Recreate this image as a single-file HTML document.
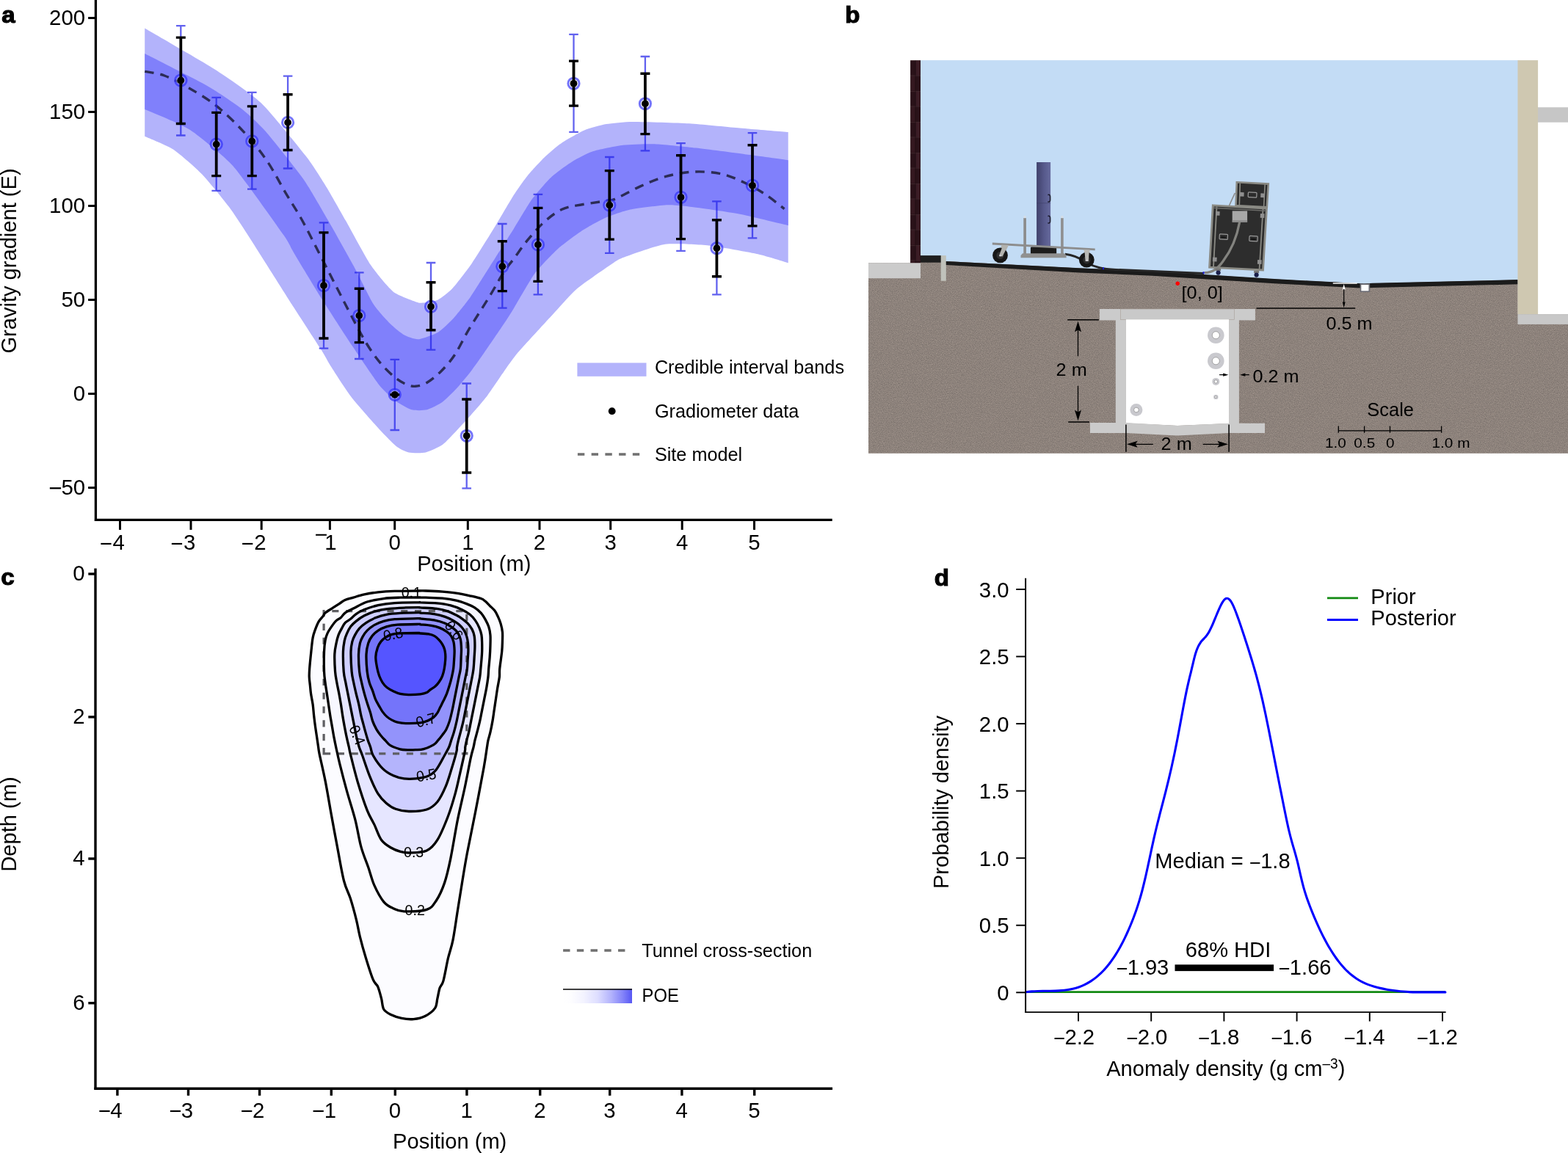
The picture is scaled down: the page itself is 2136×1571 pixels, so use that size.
<!DOCTYPE html>
<html lang="en"><head><meta charset="utf-8"><title>Figure</title>
<style>
html,body{margin:0;padding:0;background:#fff;}
body{width:2136px;height:1571px;overflow:hidden;}
svg{display:block;font-family:"Liberation Sans",Arial,Helvetica,sans-serif;}
text{fill:#000;}
</style></head><body>
<svg xmlns="http://www.w3.org/2000/svg" width="2136" height="1571" viewBox="0 0 2136 1571">
<defs>
<linearGradient id="poe" x1="0" y1="0" x2="1" y2="0"><stop offset="0" stop-color="#ffffff"/><stop offset="0.12" stop-color="#fdfdff"/><stop offset="0.3" stop-color="#f3f3ff"/><stop offset="0.5" stop-color="#dedeff"/><stop offset="0.7" stop-color="#b2b2fc"/><stop offset="0.87" stop-color="#8282f9"/><stop offset="1" stop-color="#5757f4"/></linearGradient>
<linearGradient id="cyl" x1="0" y1="0" x2="1" y2="0"><stop offset="0" stop-color="#40416b"/><stop offset="0.55" stop-color="#575a8c"/><stop offset="1" stop-color="#666a9d"/></linearGradient>
<pattern id="brick" x="1240.1" y="82.1" width="13.9" height="42" patternUnits="userSpaceOnUse">
<rect width="13.9" height="42" fill="#2a1219"/>
<rect x="7.5" y="0.8" width="5.6" height="19.6" fill="#3b1c25"/>
<rect x="0.8" y="21.8" width="5.6" height="19.4" fill="#341820"/>
<path d="M0,0.4H13.9M0,21H13.9" stroke="#4a3036" stroke-width="0.7"/>
<path d="M7,0V42" stroke="#1d0b10" stroke-width="0.7"/>
</pattern>
<filter id="grain" x="0" y="0" width="100%" height="100%" color-interpolation-filters="sRGB">
<feTurbulence type="fractalNoise" baseFrequency="0.85" numOctaves="2" seed="7" result="n"/>
<feColorMatrix type="matrix" values="0.24 0 0 0 0.432  0.22 0 0.01 0 0.395  0.20 0 0.02 0 0.374  0 0 0 0 1" in="n" result="m"/>
<feComposite in="m" in2="SourceGraphic" operator="in"/>
</filter>
</defs>
<g id="panel-b">
<rect x="1253.5" y="82.1" width="815" height="310" fill="#c3dcf5"/>
<polygon points="1183,358.2 1254,358.2 1254,356 1288.8,356 1470,365.5 1570,370 1736,380.5 1816,384.6 1858,387 1869.7,386.2 2067.5,381.4 2067.5,428 2136,428 2136,617.6 1183,617.6" fill="#8d837c"/>
<polygon points="1183,358.2 1254,358.2 1254,356 1288.8,356 1470,365.5 1570,370 1736,380.5 1816,384.6 1858,387 1869.7,386.2 2067.5,381.4 2067.5,428 2136,428 2136,617.6 1183,617.6" fill="#8d837c" filter="url(#grain)"/>
<rect x="1183" y="358.2" width="71" height="21" fill="#cbcbcb"/>
<rect x="1240.1" y="82.1" width="13.9" height="276.1" fill="url(#brick)"/>
<rect x="1254" y="348.1" width="28" height="9.6" fill="#1e1e1e"/>
<rect x="1281.7" y="348.1" width="7.1" height="34.6" fill="#c0c2bb"/>
<polygon points="1288.8,355.9 1470,365.2 1570,369.6 1736,380.1 1816,384.3 1858,386.6 1869.7,385.8 2067.5,381.1 2067.5,387.3 1869.7,392 1858,392.8 1816,390.5 1736,386.3 1570,375.8 1470,371.4 1288.8,361.1" fill="#1b1b1b"/>
<rect x="2067.5" y="82.1" width="27.6" height="346" fill="#cfc8b1"/>
<rect x="2067.5" y="428.1" width="68.5" height="13.8" fill="#c8c8c8"/>
<rect x="2095" y="146.2" width="41" height="20.5" fill="#c6c6c6"/>
<rect x="1497.9" y="421" width="212" height="15.4" fill="#cbcbcb"/>
<rect x="1526.3" y="421" width="155.2" height="14.3" fill="#c9c9c9" stroke="#a79f98" stroke-width="0.6"/>
<rect x="1519.8" y="436" width="14.1" height="141" fill="#cbcbcb"/>
<rect x="1674.1" y="436" width="13.8" height="141" fill="#cbcbcb"/>
<path d="M1533.9,435.3H1674.1V577L1604,580L1533.9,576.6Z" fill="#fff"/>
<path d="M1484.9,576H1533.9L1604,580L1674.1,576.8H1723V590H1674.1L1604,593.6L1533.9,590H1484.9Z" fill="#cbcbcb"/>
<circle cx="1656.3" cy="456.7" r="11.3" fill="#c9c9ce"/>
<circle cx="1656.3" cy="456.7" r="5.0" fill="#fff" stroke="#777" stroke-width="0.6"/>
<circle cx="1656.3" cy="491.8" r="11.3" fill="#c9c9ce"/>
<circle cx="1656.3" cy="491.8" r="5.0" fill="#fff" stroke="#777" stroke-width="0.6"/>
<circle cx="1656.3" cy="519.9" r="5.0" fill="#c9c9ce"/>
<circle cx="1656.3" cy="519.9" r="2.2" fill="#fff" stroke="#777" stroke-width="0.6"/>
<circle cx="1656.3" cy="540.9" r="3.2" fill="#c9c9ce"/>
<circle cx="1656.3" cy="540.9" r="1.4" fill="#fff" stroke="#777" stroke-width="0.6"/>
<circle cx="1547.9" cy="558.5" r="8.5" fill="#c9c9ce"/>
<circle cx="1547.9" cy="558.5" r="3.3" fill="#fff" stroke="#777" stroke-width="0.6"/>
<g>
<path d="M1451,346.3C1462,347.3 1470,351 1480,357.5C1492,364.5 1502,366.6 1520,367.4L1640,372.6" fill="none" stroke="#262626" stroke-width="3"/>
<rect x="1412.1" y="221" width="19" height="114" fill="url(#cyl)"/>
<path d="M1427.4,265.4c2.6,-0.6 3.2,0.6 3.2,2.6v4.2c0,2 -0.6,3.2 -3.2,2.6M1427.4,294.4c2.6,-0.6 3.2,0.6 3.2,2.6v4.2c0,2 -0.6,3.2 -3.2,2.6" fill="none" stroke="#1b1b2c" stroke-width="1.5"/><path d="M1412.1,276.7h19" stroke="#3c3e66" stroke-width="0.5"/>
<rect x="1394.3" y="297" width="3.6" height="49" fill="#8b8b8b"/>
<rect x="1445.1" y="297" width="3.6" height="49" fill="#8f8f8f"/>
<rect x="1394.6" y="294" width="3" height="3.2" fill="#d5dde6"/>
<rect x="1445.4" y="294" width="3" height="3.2" fill="#d5dde6"/>
<rect x="1403.9" y="336.3" width="35.3" height="10.2" rx="1.5" fill="#1d1d1d"/>
<polygon points="1351.8,330.6 1491.7,338.4 1491.7,341.2 1351.8,333.4" fill="#8d8d8d"/>
<polygon points="1393,345.2 1450.3,345.2 1452.6,348 1452.6,351.2 1390.5,351.2 1390.5,348" fill="#909090"/>
<polygon points="1364.5,333.4 1374,334 1366.8,348.5 1360.5,347.5" fill="#b2b2ae"/>
<polygon points="1476.6,340 1484.6,340.5 1483.3,355 1478.2,355" fill="#b8b8b4"/>
<circle cx="1362.5" cy="347.9" r="10.4" fill="#161616"/>
<circle cx="1362.5" cy="347.9" r="5.2" fill="#2e2e2e"/>
<circle cx="1480.3" cy="354.1" r="10.4" fill="#161616"/>
<circle cx="1480.3" cy="354.1" r="5.2" fill="#2e2e2e"/>
<polygon points="1366,334.5 1373,335 1365.5,349.5 1361,348.5" fill="#b2b2ae"/><circle cx="1362.6" cy="348.2" r="1.3" fill="#d0d0d8"/>
<polygon points="1477.4,341 1483.8,341.3 1482.8,356 1478.6,356" fill="#b8b8b4"/><circle cx="1480.6" cy="354.8" r="1.3" fill="#d0d0d8"/>
</g>
<g>
<polygon points="1684.8,248.3 1727.8,250.6 1725.8,282.3 1683.5,280" fill="#2c2c2c" stroke="#8a8a84" stroke-width="2.6"/>
<path d="M1689.3,249.6L1688.3,280M1723.2,251.3L1721.6,281.5" stroke="#8a8a84" stroke-width="1.6" fill="none"/>
<rect x="1700.3" y="262.2" width="11.6" height="6.6" rx="1" fill="#2c2c2c" stroke="#9a9a9a" stroke-width="1.2" transform="rotate(3 1706 265.5)"/>
<rect x="1689" y="262" width="5.6" height="5.6" fill="#8f8f8f" transform="rotate(3 1692 265)"/>
<rect x="1717.3" y="263.5" width="5.6" height="5.6" fill="#8f8f8f" transform="rotate(3 1720 266)"/>
<path d="M1674.5,280L1682.3,263" stroke="#8c8c8c" stroke-width="1.7" fill="none"/>
<polygon points="1652.3,279.8 1725.5,284 1720.5,368 1647.6,364.2" fill="#2d2d2d" stroke="#8a8a84" stroke-width="2.8"/>
<path d="M1657.5,281.5L1653,363.8M1720.5,285L1715.6,366.5" stroke="#8a8a84" stroke-width="1.8" fill="none"/>
<path d="M1653,283.2L1725,287.3" stroke="#6d6d6a" stroke-width="1.4" fill="none"/>
<rect x="1678.7" y="287.4" width="20.4" height="15.3" fill="#a8a8a8"/>
<rect x="1678.7" y="300.2" width="20.4" height="2.5" fill="#8c8c8c"/>
<rect x="1661.2" y="319.2" width="11.2" height="7" rx="1" fill="#2d2d2d" stroke="#9a9a9a" stroke-width="1.2" transform="rotate(3 1666.8 322.7)"/>
<path d="M1663.5,323.3h6.6" stroke="#111" stroke-width="1.6" transform="rotate(3 1666.8 322.7)"/>
<rect x="1701.9" y="321.7" width="11.2" height="7" rx="1" fill="#2d2d2d" stroke="#9a9a9a" stroke-width="1.2" transform="rotate(3 1707.5 325.2)"/>
<path d="M1704.2,325.8h6.6" stroke="#111" stroke-width="1.6" transform="rotate(3 1707.5 325.2)"/>
<rect x="1656" y="288" width="5.6" height="5.6" fill="#8f8f8f" transform="rotate(3 1658.8 290.8)"/>
<rect x="1716.8" y="291.2" width="5.6" height="5.6" fill="#8f8f8f" transform="rotate(3 1719.6 294)"/>
<rect x="1652" y="350.7" width="5.6" height="5.6" fill="#8f8f8f" transform="rotate(3 1654.8 353.5)"/>
<rect x="1713" y="354.2" width="5.6" height="5.6" fill="#8f8f8f" transform="rotate(3 1715.8 357)"/>
<path d="M1688.6,302.7C1685.5,320 1678,340 1666,356C1659.5,365 1653,371.2 1641,371.6" fill="none" stroke="#83837f" stroke-width="3.3"/><path d="M1639.6,370.2v3" stroke="#1a1acc" stroke-width="2.2"/><path d="M1503,364.2v3" stroke="#1a1acc" stroke-width="2"/>
<rect x="1656.1" y="366" width="7" height="3" fill="#777"/>
<circle cx="1659.6" cy="371.6" r="3.1" fill="#1a1f4a"/>
<rect x="1708.1" y="369" width="7" height="3" fill="#777"/>
<circle cx="1711.6" cy="374.6" r="3.1" fill="#1a1f4a"/>
</g>
<circle cx="1604.2" cy="386.2" r="2.7" fill="#f00"/>
<rect x="1853.5" y="387.2" width="11.8" height="10" fill="#fff" stroke="#6c6c74" stroke-width="1.7"/>
<path d="M1815.8,386H1848.7" stroke="#fff" stroke-width="1.3"/>
<path d="M1830.7,387L1832.7,394.6H1828.7Z" fill="#fff"/>
<path d="M1830.7,394V416" stroke="#000" stroke-width="1.2"/>
<path d="M1830.7,419.2L1832.6,411.6H1828.8Z" fill="#000"/>
<path d="M1711.5,419.9H1846.2" stroke="#000" stroke-width="1.5"/>
<path d="M1454.2,435.7H1496.8M1455.2,575H1484" stroke="#000" stroke-width="1.5"/>
<path d="M1468.5,446V485.2M1468.5,525.7V565" stroke="#000" stroke-width="1.3"/>
<path d="M1468.5,437.8L1473,452.3L1468.5,449.6L1464,452.3Z" fill="#000"/>
<path d="M1468.5,573.2L1473,558.7L1468.5,561.4L1464,558.7Z" fill="#000"/>
<path d="M1533.9,578.5V615.8M1674.1,578.5V615.8" stroke="#000" stroke-width="1.5"/>
<path d="M1544,605.3H1570.8M1638.6,605.3H1664" stroke="#000" stroke-width="1.3"/>
<path d="M1535,605.3L1549.6,600.8L1546.8,605.3L1549.6,609.8Z" fill="#000"/>
<path d="M1673,605.3L1658.4,600.8L1661.2,605.3L1658.4,609.8Z" fill="#000"/>
<path d="M1661.1,510.7H1668M1701.9,510.7H1694" stroke="#000" stroke-width="1.2"/>
<path d="M1673.4,510.7L1666.2,508.6V512.8Z" fill="#000"/>
<path d="M1689.2,510.7L1696.4,508.6V512.8Z" fill="#000"/>
<path d="M1823.3,586.9H1963.6M1823.3,580.6V589.7M1858.6,580.6V589.7M1893.5,580.6V589.7M1963.6,580.6V589.7" stroke="#000" stroke-width="1.3" fill="none"/>
<text transform="translate(1609.6 407.2) scale(1.03 1)" font-size="24.5">[0, 0]</text>
<text transform="translate(1806.5 448.8) scale(1.03 1)" font-size="24.5">0.5 m</text>
<text transform="translate(1438.6 512.3) scale(1.03 1)" font-size="24.5">2 m</text>
<text transform="translate(1706.5 520.7) scale(1.03 1)" font-size="24.5">0.2 m</text>
<text transform="translate(1581.6 612.9) scale(1.03 1)" font-size="24.5">2 m</text>
<text transform="translate(1862.3 567.2) scale(1.01 1)" font-size="25.2">Scale</text>
<text transform="translate(1805 609.6) scale(1.1 1)" font-size="18.9">1.0</text>
<text transform="translate(1844.3 609.6) scale(1.1 1)" font-size="18.9">0.5</text>
<text transform="translate(1888 609.6) scale(1.1 1)" font-size="18.9">0</text>
<text transform="translate(1950.5 609.6) scale(1.1 1)" font-size="18.9">1.0 m</text>
<text transform="translate(1151.3 31.3) scale(1.06 1)" font-size="31.2" font-weight="bold" stroke="#000" stroke-width="1.1">b</text>
</g>
<g id="panel-a">
<path d="M197.2,38.5C206.74,44.1 276.75,84.32 292.6,94.5C308.45,104.68 343.28,128.47 355.7,140.3C368.12,152.13 408.02,201.54 416.8,212.8C425.58,224.06 438.12,244.18 443.5,252.9C448.88,261.62 464.45,289.18 470.6,300C476.75,310.82 498.5,351.36 505,361.1C511.5,370.84 529.3,392.34 535.6,397.4C541.9,402.46 564,410.18 568,411.7C572,413.22 572.73,412.93 575.6,412.6C578.47,412.27 592.68,410.3 596.7,408.4C600.72,406.5 611.22,398.52 615.8,393.6C620.38,388.68 636.58,367.8 642.5,359.2C648.42,350.6 669.25,316.96 675,307.6C680.75,298.24 695.59,272.48 700,265.6C704.41,258.72 714.9,243.96 719.1,238.8C723.3,233.64 737.42,218.39 742,214C746.58,209.61 759.55,198.53 764.9,194.9C770.25,191.27 789.39,180.28 795.5,177.7C801.61,175.12 819.32,170.28 826,169.1C832.68,167.92 851.03,165.99 862.3,165.9C873.57,165.81 924.38,167.36 938.7,168.2C953.02,169.04 992,173.12 1005.5,174.3C1019,175.48 1066.88,179.43 1073.7,180L1073.7,358.2C1069.74,357.05 1044.74,349.05 1034.1,346.7C1023.46,344.35 980.09,336.09 967.3,334.7C954.51,333.31 917.66,331.31 906.2,332.8C894.74,334.29 859.76,347.06 852.7,349.6C845.64,352.14 842.28,353.81 835.6,358.2C828.92,362.59 794.3,386.32 785.9,393.5C777.5,400.68 756.78,424.46 751.6,430C746.42,435.54 738.68,443.9 734.1,448.9C729.52,453.9 710.34,474.6 705.8,480C701.26,485.4 692.9,496.98 688.7,502.9C684.5,508.82 668.39,533.09 663.8,539.2C659.21,545.31 647,559.23 642.8,564C638.6,568.77 625.81,582.7 621.8,586.9C617.79,591.1 606.9,603.04 602.7,606C598.5,608.96 584.38,615.45 579.8,616.5C575.22,617.55 560.91,617.36 556.9,616.5C552.89,615.64 543.71,611.05 539.7,607.9C535.69,604.75 522.91,591.68 516.8,585C510.69,578.32 485.28,549.79 478.6,541.1C471.92,532.41 454.04,504.45 450,498.1C445.96,491.75 443.2,485.57 438.2,477.6C433.2,469.63 410.07,434.16 400,418.4C389.93,402.64 346.33,333.68 337.5,320C328.67,306.32 317.9,289.83 311.7,281.6C305.5,273.37 283.04,245.49 275.5,237.7C267.96,229.91 244.13,208.9 236.3,203.7C228.47,198.5 201.11,187.5 197.2,185.7Z" fill="#b3b3fb"/>
<path d="M197.2,73.1C205.79,77.53 269.93,109.92 283.1,117.4C296.27,124.88 321.07,141.79 328.9,147.9C336.73,154.01 353,168.95 361.4,178.5C369.8,188.05 404.36,231.25 412.9,243.4C421.44,255.55 439.88,288.04 446.8,300C453.72,311.96 475.9,351.54 482.1,363C488.3,374.46 503.84,406.77 508.8,414.6C513.76,422.43 527.5,437.1 531.7,441.3C535.9,445.5 546.98,454.5 550.8,456.6C554.62,458.7 565.31,462.69 569.9,462.3C574.49,461.91 591.92,455.56 596.7,452.7C601.48,449.84 613.31,438.47 617.7,433.7C622.09,428.93 635.64,412.07 640.6,405C645.56,397.93 661.36,372.36 667.3,363C673.24,353.64 694.25,320.57 700,311.4C705.75,302.23 719.64,278.37 724.8,271.3C729.96,264.23 746.06,245.86 751.6,240.7C757.14,235.54 774.67,223.13 780.2,219.7C785.73,216.27 800.03,208.59 806.9,206.4C813.77,204.21 840.12,198.8 848.9,197.8C857.68,196.8 884.77,196.02 894.7,196.4C904.63,196.78 936.17,200.22 948.2,201.6C960.23,202.98 1002.45,208.54 1015,210.2C1027.55,211.86 1067.83,217.4 1073.7,218.2L1073.7,307.2C1066.88,305.61 1018.05,293.75 1005.5,291.3C992.95,288.85 957.75,283.9 948.2,282.7C938.65,281.5 918.97,279.01 910,279.3C901.03,279.59 867.09,283.82 858.5,285.6C849.91,287.38 830.79,294.14 824.1,297.1C817.41,300.06 797.9,311.1 791.6,315.2C785.3,319.3 767.4,332.37 761.1,338.1C754.8,343.83 734.71,364.31 728.6,372.5C722.49,380.69 704.22,413.12 700,420C695.78,426.88 690.4,435.3 686.4,441.3C682.4,447.3 664.55,473.46 660,480C655.45,486.54 644.72,501.74 640.9,506.7C637.08,511.66 625.62,525.49 621.8,529.6C617.98,533.71 606.71,544.93 602.7,547.8C598.69,550.67 585.9,557.25 581.7,558.3C577.5,559.35 564.9,559.45 560.7,558.3C556.5,557.15 544.09,550.14 539.7,546.8C535.31,543.46 522.75,532.4 516.8,524.9C510.85,517.4 488.06,483.6 480.2,471.8C472.34,460 446.22,419.69 438.2,406.9C430.18,394.11 405.2,352.59 400,343.9C394.8,335.21 394.45,331.77 386.2,320C377.95,308.23 329.72,240.16 317.5,226.2C305.28,212.24 272.21,186.51 264,180.4C255.79,174.29 242.08,168.25 235.4,165.1C228.72,161.95 201.02,150.52 197.2,148.9Z" fill="#8080fb"/>
<path d="M197.2,97.3C201.65,98.25 214.03,99.33 223.9,103C233.77,106.67 244.62,112.45 256.4,119.3C268.18,126.15 281.88,133.92 294.6,144.1C307.32,154.28 321.25,167.98 332.7,180.4C344.15,192.82 353.75,204.6 363.3,218.6C372.85,232.6 381.97,250.83 390,264.4C398.03,277.97 403.47,285.47 411.5,300C419.53,314.53 427.38,330.6 438.2,351.6C449.02,372.6 466.22,406.6 476.4,426C486.58,445.4 492.3,456.53 499.3,468C506.3,479.47 512.03,487.17 518.4,494.8C524.77,502.43 531.78,509.03 537.5,513.8C543.22,518.57 547.93,521.32 552.7,523.4C557.47,525.48 561.32,526.62 566.1,526.3C570.88,525.98 575.67,524.85 581.4,521.5C587.13,518.15 594.13,512.57 600.5,506.2C606.87,499.83 613.23,492.85 619.6,483.3C625.97,473.75 630.75,462.27 638.7,448.9C646.65,435.53 659.35,416.15 667.3,403.1C675.25,390.05 680.95,379.05 686.4,370.6C691.85,362.15 694.55,359.72 700,352.4C705.45,345.08 712.1,335.13 719.1,326.7C726.1,318.27 734.37,308.65 742,301.8C749.63,294.95 757.58,289.25 764.9,285.6C772.22,281.95 776.35,281.8 785.9,279.9C795.45,278 813.6,275.63 822.2,274.2C830.8,272.77 829.23,274.65 837.5,271.3C845.77,267.95 860.35,259.2 871.8,254.1C883.25,249 894.1,244.03 906.2,240.7C918.3,237.37 931.67,234.73 944.4,234.1C957.13,233.47 970.83,234.37 982.6,236.9C994.37,239.43 1004.82,244.52 1015,249.3C1025.18,254.08 1034.78,259.7 1043.7,265.6C1052.62,271.5 1064.37,281.52 1068.5,284.7" fill="none" stroke="#000" stroke-opacity="0.66" stroke-width="3.4" stroke-dasharray="12.5 9"/>
<g stroke="#2020e8" stroke-opacity="0.7" stroke-width="2.3" fill="none"><path d="M246.3,35.1V184.5M240,35.1h12.6M240,184.5h12.6"/><path d="M294.7,132.9V259.8M288.4,132.9h12.6M288.4,259.8h12.6"/><path d="M343.3,125.8V257.6M337,125.8h12.6M337,257.6h12.6"/><path d="M392.1,103.7V229.5M385.8,103.7h12.6M385.8,229.5h12.6"/><path d="M441,303.4V474.7M434.7,303.4h12.6M434.7,474.7h12.6"/><path d="M489.3,371.3V489M483,371.3h12.6M483,489h12.6"/><path d="M537.8,489.9V586M531.5,489.9h12.6M531.5,586h12.6"/><path d="M587,358V476.7M580.7,358h12.6M580.7,476.7h12.6"/><path d="M635.7,522.5V665.4M629.4,522.5h12.6M629.4,665.4h12.6"/><path d="M684.3,305V419.7M678,305h12.6M678,419.7h12.6"/><path d="M732.9,264.9V401.4M726.6,264.9h12.6M726.6,401.4h12.6"/><path d="M781.5,46.9V179.8M775.2,46.9h12.6M775.2,179.8h12.6"/><path d="M830.3,214V344.9M824,214h12.6M824,344.9h12.6"/><path d="M878.9,77V205.3M872.6,77h12.6M872.6,205.3h12.6"/><path d="M927.5,195.2V341.9M921.2,195.2h12.6M921.2,341.9h12.6"/><path d="M976.4,274.4V401.4M970.1,274.4h12.6M970.1,401.4h12.6"/><path d="M1025,181.2V324.4M1018.7,181.2h12.6M1018.7,324.4h12.6"/></g>
<g stroke="#2020f8" stroke-opacity="0.62" stroke-width="3" fill="#fff" fill-opacity="0.3"><circle cx="246.3" cy="109.5" r="7.6"/><circle cx="294.7" cy="196.6" r="7.6"/><circle cx="343.3" cy="192.4" r="7.6"/><circle cx="392.1" cy="166.9" r="7.6"/><circle cx="441" cy="389" r="7.6"/><circle cx="489.3" cy="430" r="7.6"/><circle cx="537.8" cy="537.8" r="7.6"/><circle cx="587" cy="417.7" r="7.6"/><circle cx="635.7" cy="593.8" r="7.6"/><circle cx="684.3" cy="363" r="7.6"/><circle cx="732.9" cy="333.4" r="7.6"/><circle cx="781.5" cy="113.8" r="7.6"/><circle cx="830.3" cy="279.5" r="7.6"/><circle cx="878.9" cy="141.3" r="7.6"/><circle cx="927.5" cy="268.8" r="7.6"/><circle cx="976.4" cy="338.2" r="7.6"/><circle cx="1025" cy="252.8" r="7.6"/></g>
<g stroke="#000" stroke-width="3.8" fill="none"><path d="M246.3,51.1V168.5"/><path d="M239.8,51.1h13M239.8,168.5h13" stroke-width="3.4"/><path d="M294.7,153.4V239.6"/><path d="M288.2,153.4h13M288.2,239.6h13" stroke-width="3.4"/><path d="M343.3,144.9V239.6"/><path d="M336.8,144.9h13M336.8,239.6h13" stroke-width="3.4"/><path d="M392.1,128.7V204.5"/><path d="M385.6,128.7h13M385.6,204.5h13" stroke-width="3.4"/><path d="M441,316.9V461"/><path d="M434.5,316.9h13M434.5,461h13" stroke-width="3.4"/><path d="M489.3,393.3V466.6"/><path d="M482.8,393.3h13M482.8,466.6h13" stroke-width="3.4"/><path d="M531.3,537.8h13" stroke-width="3.4"/><path d="M587,384.8V449.7"/><path d="M580.5,384.8h13M580.5,449.7h13" stroke-width="3.4"/><path d="M635.7,544V644"/><path d="M629.2,544h13M629.2,644h13" stroke-width="3.4"/><path d="M684.3,328.7V396.6"/><path d="M677.8,328.7h13M677.8,396.6h13" stroke-width="3.4"/><path d="M732.9,283.4V383.4"/><path d="M726.4,283.4h13M726.4,383.4h13" stroke-width="3.4"/><path d="M781.5,83.1V144.1"/><path d="M775,83.1h13M775,144.1h13" stroke-width="3.4"/><path d="M830.3,232.6V326.1"/><path d="M823.8,232.6h13M823.8,326.1h13" stroke-width="3.4"/><path d="M878.9,100.3V182.6"/><path d="M872.4,100.3h13M872.4,182.6h13" stroke-width="3.4"/><path d="M927.5,211.8V325.6"/><path d="M921,211.8h13M921,325.6h13" stroke-width="3.4"/><path d="M976.4,299.7V376.7"/><path d="M969.9,299.7h13M969.9,376.7h13" stroke-width="3.4"/><path d="M1025,197.8V307.9"/><path d="M1018.5,197.8h13M1018.5,307.9h13" stroke-width="3.4"/></g>
<g fill="#000"><circle cx="246.3" cy="109.5" r="4.9"/><circle cx="294.7" cy="196.6" r="4.9"/><circle cx="343.3" cy="192.4" r="4.9"/><circle cx="392.1" cy="166.9" r="4.9"/><circle cx="441" cy="389" r="4.9"/><circle cx="489.3" cy="430" r="4.9"/><circle cx="537.8" cy="537.8" r="4.9"/><circle cx="587" cy="417.7" r="4.9"/><circle cx="635.7" cy="593.8" r="4.9"/><circle cx="684.3" cy="363" r="4.9"/><circle cx="732.9" cy="333.4" r="4.9"/><circle cx="781.5" cy="113.8" r="4.9"/><circle cx="830.3" cy="279.5" r="4.9"/><circle cx="878.9" cy="141.3" r="4.9"/><circle cx="927.5" cy="268.8" r="4.9"/><circle cx="976.4" cy="338.2" r="4.9"/><circle cx="1025" cy="252.8" r="4.9"/></g>
<g stroke="#000" stroke-width="3" fill="none">
<path d="M130.4,0V709.9" stroke-width="3.3"/>
<path d="M128.9,708.4H1133.7" stroke-width="3.2"/>
<path d="M120.1,24.5H130"/>
<path d="M120.1,152.5H130"/>
<path d="M120.1,280.5H130"/>
<path d="M120.1,408.5H130"/>
<path d="M120.1,536.5H130"/>
<path d="M120.1,664.5H130"/>
<path d="M163.5,708V721.9"/>
<path d="M260,708V721.9"/>
<path d="M356.2,708V721.9"/>
<path d="M449.4,708V721.9"/>
<path d="M537.7,708V721.9"/>
<path d="M637.3,708V721.9"/>
<path d="M735,708V721.9"/>
<path d="M831.7,708V721.9"/>
<path d="M929.2,708V721.9"/>
<path d="M1027.5,708V721.9"/>
</g>
<text transform="translate(116.1 33.8) scale(0.97 1)" font-size="30.3" text-anchor="end">200</text>
<text transform="translate(116.1 161.8) scale(0.97 1)" font-size="30.3" text-anchor="end">150</text>
<text transform="translate(116.1 289.8) scale(0.97 1)" font-size="30.3" text-anchor="end">100</text>
<text transform="translate(116.1 417.8) scale(0.97 1)" font-size="30.3" text-anchor="end">50</text>
<text transform="translate(116.1 545.8) scale(0.97 1)" font-size="30.3" text-anchor="end">0</text>
<text transform="translate(116.1 673.8) scale(0.97 1)" font-size="30.3" text-anchor="end"><tspan font-size="32.4" dy="1.9" letter-spacing="-1.4">−</tspan><tspan dy="-1.9">50</tspan></text>
<text transform="translate(169.8 748.8) scale(0.97 1)" font-size="30.3" text-anchor="end"><tspan font-size="30.3" dy="1.7" letter-spacing="0.2">−</tspan><tspan dy="-1.7">4</tspan></text>
<text transform="translate(266.3 748.8) scale(0.97 1)" font-size="30.3" text-anchor="end"><tspan font-size="30.3" dy="1.7" letter-spacing="0.2">−</tspan><tspan dy="-1.7">3</tspan></text>
<text transform="translate(362.5 748.8) scale(0.97 1)" font-size="30.3" text-anchor="end"><tspan font-size="30.3" dy="1.7" letter-spacing="0.2">−</tspan><tspan dy="-1.7">2</tspan></text>
<text transform="translate(537.7 748.8) scale(0.97 1)" font-size="30.3" text-anchor="middle">0</text>
<text transform="translate(637.3 748.8) scale(0.97 1)" font-size="30.3" text-anchor="middle">1</text>
<text transform="translate(735 748.8) scale(0.97 1)" font-size="30.3" text-anchor="middle">2</text>
<text transform="translate(831.7 748.8) scale(0.97 1)" font-size="30.3" text-anchor="middle">3</text>
<text transform="translate(929.2 748.8) scale(0.97 1)" font-size="30.3" text-anchor="middle">4</text>
<text transform="translate(1027.5 748.8) scale(0.97 1)" font-size="30.3" text-anchor="middle">5</text>
<text transform="translate(450.4 748.8) scale(0.97 1)" font-size="30.3" text-anchor="middle">1</text>
<path d="M430.1,728.8H444.9" stroke="#000" stroke-width="2.1"/>
<text transform="translate(645.8 777.6) scale(0.98 1)" font-size="29.7" text-anchor="middle">Position (m)</text>
<text transform="translate(21.6 355.5) rotate(-90) scale(0.98 1)" font-size="29.7" text-anchor="middle">Gravity gradient (E)</text>
<rect x="786.4" y="494.4" width="94.1" height="18.4" fill="#b3b3fb"/>
<circle cx="833.7" cy="560.2" r="4.9"/>
<path d="M786.9,619.1H871.2" stroke="#707070" stroke-width="3.5" stroke-dasharray="9.4 9.33" fill="none"/>
<text transform="translate(891.9 509.3) scale(1.01 1)" font-size="25">Credible interval bands</text>
<text transform="translate(891.9 568.6) scale(1.01 1)" font-size="25">Gradiometer data</text>
<text transform="translate(891.9 627.7) scale(1.01 1)" font-size="25">Site model</text>
<text transform="translate(2.3 31.3) scale(1.06 1)" font-size="31.2" font-weight="bold" stroke="#000" stroke-width="1.1">a</text>
</g>
<g id="panel-c">
<path d="M580.05,805.02C585.48,805.21 595.7,805.65 602.58,806.15C609.47,806.65 615.1,807.09 621.36,808.03C627.62,808.97 634.51,810.53 640.14,811.78C645.77,813.04 651.66,814.29 655.16,815.54C658.67,816.79 659.17,817.67 661.17,819.3C663.18,820.92 665.05,823.18 667.18,825.31C669.31,827.43 672.07,829.56 673.94,832.07C675.82,834.57 677.07,837.32 678.45,840.33C679.83,843.33 681.21,846.59 682.21,850.09C683.21,853.6 684.08,857.61 684.46,861.36C684.84,865.12 684.59,868.25 684.46,872.63C684.33,877.01 684.33,881.21 683.71,887.65C683.08,894.09 681.27,905.45 680.7,911.27C680.14,917.08 680.83,918.15 680.33,922.54C679.83,926.92 678.51,932.55 677.7,937.56C676.89,942.57 676.2,947.57 675.45,952.58C674.69,957.59 673.94,962.6 673.19,967.61C672.44,972.61 671.82,977.62 670.94,982.63C670.06,987.64 668.94,993.27 667.93,997.65C666.93,1002.03 665.68,1005.53 664.93,1008.92C664.18,1012.31 664.39,1011.92 663.43,1018.01C662.46,1024.1 661.75,1030.86 659.14,1045.44C656.53,1060.02 651.57,1086.01 647.78,1105.49C643.99,1124.96 639.39,1146.54 636.42,1162.29C633.44,1178.04 632.09,1186.95 629.93,1200C627.76,1213.05 625.6,1227.05 623.44,1240.57C621.27,1254.1 619.11,1270.33 616.94,1281.15C614.78,1291.96 612.62,1296.29 610.45,1305.49C608.29,1314.69 605.85,1329.56 603.96,1336.32C602.07,1343.09 600.44,1342 599.09,1346.06C597.74,1350.12 596.93,1356.07 595.85,1360.67C594.76,1365.27 595.31,1369.73 592.6,1373.65C589.9,1377.57 584.49,1381.71 579.62,1384.2C574.75,1386.69 568.8,1388.04 563.39,1388.58C557.98,1389.12 552.3,1388.45 547.16,1387.45C542.02,1386.44 536.61,1384.61 532.55,1382.58C528.5,1380.55 524.98,1378.92 522.82,1375.27C520.65,1371.62 520.92,1365.81 519.57,1360.67C518.22,1355.53 516.59,1348.77 514.7,1344.44C512.81,1340.11 510.91,1341.19 508.21,1334.7C505.5,1328.21 501.45,1315.23 498.47,1305.49C495.5,1295.75 492.52,1284.93 490.36,1276.28C488.19,1267.62 487.65,1262.21 485.49,1253.56C483.32,1244.9 480.21,1233.27 477.37,1224.34C474.53,1215.42 471.42,1211.69 468.45,1200C465.47,1188.31 462.36,1169.12 459.52,1154.18C456.68,1139.24 454.11,1125.23 451.41,1110.36C448.7,1095.48 446,1078.71 443.29,1064.92C440.59,1051.12 436.78,1035.41 435.18,1027.59C433.57,1019.77 434.23,1021.75 433.66,1018.01C433.1,1014.27 432.47,1009.81 431.78,1005.16C431.1,1000.52 430.22,995.15 429.53,990.14C428.84,985.13 428.22,980.13 427.65,975.12C427.09,970.11 426.84,965.1 426.15,960.09C425.46,955.09 424.15,949.45 423.52,945.07C422.9,940.69 422.77,937.56 422.39,933.8C422.02,930.05 421.39,926.29 421.27,922.54C421.14,918.78 421.21,917.08 421.64,911.27C422.08,905.45 423.15,894.72 423.9,887.65C424.65,880.59 425.21,873.88 426.15,868.87C427.09,863.87 428.22,861.24 429.53,857.61C430.85,853.97 432.28,850.09 434.04,847.09C435.79,844.08 438.54,841.58 440.05,839.58C441.55,837.57 441.05,836.82 443.05,835.07C445.05,833.32 448.81,831.19 452.07,829.06C455.32,826.93 459.58,824.24 462.58,822.3C465.59,820.36 466.96,818.79 470.09,817.42C473.22,816.04 476.98,815.29 481.36,814.04C485.74,812.79 490.75,811.1 496.38,809.91C502.02,808.72 508.28,807.65 515.16,806.9C522.05,806.15 528.56,805.71 537.7,805.4C546.84,805.09 562.94,805.09 570,805.02C577.06,804.96 574.62,804.84 580.05,805.02Z" fill="#fcfcff"/>
<path d="M580.05,814.19C585.48,814.38 595.7,814.5 602.58,815.16C609.47,815.83 615.73,816.85 621.36,818.17C627,819.48 632.25,821.49 636.38,823.05C640.52,824.62 643.02,825.56 646.15,827.56C649.28,829.56 652.66,832.32 655.16,835.07C657.67,837.82 659.42,840.95 661.17,844.08C662.93,847.21 664.55,850.34 665.68,853.85C666.81,857.36 667.56,860.74 667.93,865.12C668.31,869.5 668.06,875.13 667.93,880.14C667.81,885.15 667.56,889.98 667.18,895.16C666.81,900.35 666.06,906.71 665.68,911.27C665.31,915.83 665.43,918.15 664.93,922.54C664.43,926.92 663.55,932.55 662.68,937.56C661.8,942.57 660.67,947.57 659.67,952.58C658.67,957.59 657.67,962.6 656.67,967.61C655.67,972.61 654.79,977.62 653.66,982.63C652.54,987.64 651.03,993.27 649.91,997.65C648.78,1002.03 647.72,1005.53 646.9,1008.92C646.09,1012.31 645.96,1014.09 645.02,1018.01C644.09,1021.93 643.26,1023.29 641.29,1032.46C639.31,1041.63 636.15,1058.97 633.17,1073.03C630.2,1087.1 626.68,1100.62 623.44,1116.85C620.19,1133.08 616.67,1156.07 613.7,1170.4C610.72,1184.74 608.83,1193.4 605.58,1202.86C602.34,1212.33 598.28,1221.12 594.22,1227.21C590.17,1233.29 588.54,1236.94 581.24,1239.38C573.94,1241.81 557.98,1242.08 550.4,1241.81C542.83,1241.54 540.4,1239.92 535.8,1237.76C531.2,1235.59 527.14,1234.1 522.82,1228.83C518.49,1223.55 513.35,1213.95 509.83,1206.11C506.32,1198.26 504.69,1190.42 501.72,1181.77C498.74,1173.11 494.96,1165 491.98,1154.18C489,1143.36 487.11,1129.56 483.87,1116.85C480.62,1104.14 476.02,1090.61 472.51,1077.9C468.99,1065.19 465.24,1050.55 462.77,1040.57C460.3,1030.59 458.98,1023.91 457.7,1018.01C456.42,1012.11 455.95,1009.81 455.07,1005.16C454.19,1000.52 453.32,995.15 452.44,990.14C451.56,985.13 450.63,980.13 449.81,975.12C449,970.11 448.31,965.1 447.56,960.09C446.81,955.09 446.06,950.08 445.31,945.07C444.55,940.06 443.68,935.05 443.05,930.05C442.43,925.04 441.8,922.09 441.55,915.02C441.3,907.96 441.3,894.72 441.55,887.65C441.8,880.59 442.3,876.76 443.05,872.63C443.8,868.5 444.55,866.12 446.06,862.86C447.56,859.61 450.06,855.98 452.07,853.1C454.07,850.22 456.07,847.46 458.08,845.59C460.08,843.71 462.08,843.58 464.08,841.83C466.09,840.08 467.21,837.2 470.09,835.07C472.97,832.94 476.35,831.56 481.36,829.06C486.37,826.56 493.26,822.3 500.14,820.05C507.03,817.79 515.16,816.52 522.68,815.54C530.19,814.56 537.32,814.44 545.21,814.19C553.1,813.94 564.19,814.04 570,814.04C575.81,814.04 574.62,814 580.05,814.19Z" fill="#f7f7ff"/>
<path d="M572.54,820.95C576.71,821.14 588.18,821.26 595.07,821.92C601.96,822.59 608.22,823.49 613.85,824.93C619.48,826.37 624.49,828.5 628.87,830.56C633.26,832.63 637.01,834.82 640.14,837.32C643.27,839.83 645.52,842.58 647.65,845.59C649.78,848.59 651.53,852.1 652.91,855.35C654.29,858.61 655.29,861.61 655.92,865.12C656.54,868.62 656.54,872.63 656.67,876.38C656.79,880.14 656.79,883.9 656.67,887.65C656.54,891.41 656.23,894.98 655.92,898.92C655.6,902.86 655.16,907.33 654.79,911.27C654.41,915.2 654.35,918.15 653.66,922.54C652.97,926.92 651.66,932.55 650.66,937.56C649.66,942.57 648.65,947.57 647.65,952.58C646.65,957.59 645.65,962.6 644.65,967.61C643.65,972.61 642.64,977.62 641.64,982.63C640.64,987.64 639.64,993.27 638.64,997.65C637.64,1002.03 636.45,1005.53 635.63,1008.92C634.82,1012.31 634.17,1015.44 633.76,1018.01C633.35,1020.58 634.35,1018.42 633.17,1024.34C631.99,1030.27 628.85,1044.09 626.68,1053.56C624.52,1063.02 622.89,1071.41 620.19,1081.15C617.48,1090.88 614.51,1101.43 610.45,1111.98C606.39,1122.53 600.71,1136.59 595.85,1144.44C590.98,1152.28 587.46,1156.12 581.24,1159.04C575.02,1161.97 564.47,1161.75 558.52,1161.97C552.57,1162.18 549.86,1161.51 545.54,1160.34C541.21,1159.18 536.88,1157.64 532.55,1154.99C528.23,1152.34 523.36,1149.71 519.57,1144.44C515.78,1139.16 513.08,1130.1 509.83,1123.34C506.59,1116.58 503.88,1113.6 500.09,1103.87C496.31,1094.13 490.9,1077.63 487.11,1064.92C483.32,1052.2 479.33,1035.41 477.37,1027.59C475.41,1019.77 476.19,1021.75 475.35,1018.01C474.51,1014.27 473.35,1009.81 472.35,1005.16C471.35,1000.52 470.28,995.15 469.34,990.14C468.4,985.13 467.53,980.13 466.71,975.12C465.9,970.11 465.27,965.1 464.46,960.09C463.65,955.09 462.77,950.08 461.83,945.07C460.89,940.06 459.7,935.05 458.83,930.05C457.95,925.04 457.07,921.46 456.57,915.02C456.07,908.58 455.57,897.85 455.82,891.41C456.07,884.97 457.2,880.77 458.08,876.38C458.95,872 459.83,868.5 461.08,865.12C462.33,861.74 464.08,858.86 465.59,856.1C467.09,853.35 468.09,850.72 470.09,848.59C472.1,846.46 475.1,845.34 477.61,843.33C480.11,841.33 481.99,838.7 485.12,836.57C488.25,834.44 491.38,832.57 496.38,830.56C501.39,828.56 508.28,826.06 515.16,824.55C522.05,823.05 528.56,822.18 537.7,821.55C546.84,820.92 564.19,820.9 570,820.8C575.81,820.7 568.36,820.76 572.54,820.95Z" fill="#e6e6ff"/>
<path d="M572.54,827.93C576.71,828.25 588.81,828.62 595.07,829.44C601.33,830.25 605.71,831.38 610.09,832.82C614.48,834.26 618.23,836.45 621.36,838.08C624.49,839.7 626.24,840.7 628.87,842.58C631.5,844.46 634.76,846.84 637.14,849.34C639.51,851.85 641.64,854.73 643.15,857.61C644.65,860.49 645.52,862.86 646.15,866.62C646.78,870.38 646.9,875.38 646.9,880.14C646.9,884.9 646.46,889.98 646.15,895.16C645.84,900.35 645.52,906.71 645.02,911.27C644.52,915.83 643.96,918.15 643.15,922.54C642.33,926.92 641.14,932.55 640.14,937.56C639.14,942.57 638.14,947.57 637.14,952.58C636.13,957.59 635.13,962.6 634.13,967.61C633.13,972.61 632.25,977.62 631.13,982.63C630,987.64 628.5,993.27 627.37,997.65C626.24,1002.03 625.18,1005.53 624.37,1008.92C623.55,1012.31 622.91,1015.44 622.49,1018.01C622.06,1020.58 623.01,1019.5 621.81,1024.34C620.62,1029.19 617.76,1039.22 615.32,1047.06C612.89,1054.91 610.45,1063.83 607.21,1071.41C603.96,1078.98 600.17,1087.23 595.85,1092.51C591.52,1097.78 587.73,1100.89 581.24,1103.05C574.75,1105.22 563.93,1105.62 556.9,1105.49C549.86,1105.35 544.18,1104.14 539.04,1102.24C533.91,1100.35 530.12,1097.64 526.06,1094.13C522,1090.61 518.49,1087.37 514.7,1081.15C510.91,1074.92 506.86,1065.46 503.34,1056.8C499.82,1048.15 495.95,1035.68 493.6,1029.21C491.25,1022.75 490.54,1022.02 489.25,1018.01C487.96,1014 486.93,1009.81 485.87,1005.16C484.8,1000.52 483.87,995.15 482.86,990.14C481.86,985.13 480.86,980.13 479.86,975.12C478.86,970.11 477.86,965.1 476.85,960.09C475.85,955.09 474.85,950.08 473.85,945.07C472.85,940.06 471.78,935.05 470.85,930.05C469.91,925.04 468.78,922.09 468.22,915.02C467.65,907.96 467.28,894.72 467.46,887.65C467.65,880.59 468.53,876.64 469.34,872.63C470.16,868.62 470.97,866.74 472.35,863.62C473.72,860.49 475.48,856.73 477.61,853.85C479.73,850.97 481.99,848.84 485.12,846.34C488.25,843.83 492,841.08 496.38,838.83C500.77,836.57 505.77,834.38 511.41,832.82C517.04,831.25 523.3,830.25 530.19,829.44C537.07,828.62 546.09,828.25 552.72,827.93C559.36,827.62 566.7,827.56 570,827.56C573.3,827.56 568.36,827.62 572.54,827.93Z" fill="#cfcfff"/>
<path d="M572.54,835.07C576.09,835.38 585.68,835.7 591.31,836.57C596.95,837.45 601.96,838.83 606.34,840.33C610.72,841.83 614.48,843.83 617.61,845.59C620.74,847.34 622.74,848.72 625.12,850.85C627.5,852.97 630.13,855.73 631.88,858.36C633.63,860.99 634.69,863.62 635.63,866.62C636.57,869.62 637.14,872.88 637.51,876.38C637.89,879.89 637.95,883.9 637.89,887.65C637.82,891.41 637.39,894.98 637.14,898.92C636.89,902.86 636.89,907.33 636.38,911.27C635.88,915.2 635.01,918.15 634.13,922.54C633.26,926.92 632.13,932.55 631.13,937.56C630.13,942.57 629.12,947.57 628.12,952.58C627.12,957.59 626.12,962.6 625.12,967.61C624.12,972.61 623.24,977.62 622.11,982.63C620.99,987.64 619.61,993.27 618.36,997.65C617.1,1002.03 615.73,1005.53 614.6,1008.92C613.47,1012.31 613.1,1014.63 611.6,1018.01C610.09,1021.39 608.48,1024.1 605.58,1029.21C602.69,1034.33 598.01,1043.95 594.22,1048.69C590.44,1053.42 587.46,1055.58 582.86,1057.61C578.26,1059.64 572.04,1060.32 566.63,1060.86C561.22,1061.4 555.54,1061.54 550.4,1060.86C545.27,1060.18 540.67,1059.1 535.8,1056.8C530.93,1054.5 525.79,1051.66 521.19,1047.06C516.59,1042.47 510.97,1034.05 508.21,1029.21C505.45,1024.37 505.8,1021.39 504.65,1018.01C503.49,1014.63 502.39,1012.31 501.27,1008.92C500.14,1005.53 498.95,1001.41 497.89,997.65C496.82,993.9 495.88,990.14 494.88,986.38C493.88,982.63 492.88,979.5 491.88,975.12C490.88,970.74 490,965.1 488.87,960.09C487.75,955.09 486.31,950.08 485.12,945.07C483.93,940.06 482.74,935.05 481.74,930.05C480.74,925.04 479.73,922.09 479.11,915.02C478.48,907.96 477.86,894.47 477.98,887.65C478.11,880.84 478.92,877.89 479.86,874.13C480.8,870.38 481.99,868.12 483.62,865.12C485.24,862.11 487.12,858.86 489.62,856.1C492.13,853.35 495.01,850.97 498.64,848.59C502.27,846.21 506.78,843.71 511.41,841.83C516.04,839.95 520.8,838.39 526.43,837.32C532.07,836.26 537.95,835.88 545.21,835.45C552.47,835.01 565.45,834.76 570,834.69C574.55,834.63 568.98,834.76 572.54,835.07Z" fill="#b4b4fc"/>
<path d="M572.54,842.96C576.09,843.33 585.68,843.77 591.31,844.84C596.95,845.9 601.96,847.46 606.34,849.34C610.72,851.22 614.73,853.97 617.61,856.1C620.49,858.23 621.99,859.61 623.62,862.11C625.24,864.62 626.56,867.5 627.37,871.13C628.18,874.76 628.37,879.89 628.5,883.9C628.62,887.9 628.31,890.6 628.12,895.16C627.93,899.73 627.87,906.71 627.37,911.27C626.87,915.83 625.99,918.15 625.12,922.54C624.24,926.92 623.11,932.55 622.11,937.56C621.11,942.57 620.11,947.57 619.11,952.58C618.11,957.59 617.23,962.6 616.1,967.61C614.98,972.61 613.72,978.25 612.35,982.63C610.97,987.01 609.47,990.77 607.84,993.9C606.21,997.03 604.46,998.9 602.58,1001.41C600.7,1003.91 598.58,1006.67 596.57,1008.92C594.57,1011.17 593.83,1012.98 590.56,1014.93C587.3,1016.88 581.09,1019.47 577,1020.6C572.91,1021.73 569.67,1021.5 566,1021.7C562.33,1021.9 558.5,1021.95 555,1021.8C551.5,1021.65 548.88,1021.82 545,1020.8C541.12,1019.78 535.04,1017.66 531.69,1015.68C528.35,1013.7 527.18,1011.3 524.93,1008.92C522.68,1006.54 520.17,1003.91 518.17,1001.41C516.17,998.9 514.66,997.03 512.91,993.9C511.16,990.77 509.03,986.38 507.65,982.63C506.28,978.87 505.77,975.12 504.65,971.36C503.52,967.61 502.27,964.48 500.89,960.09C499.51,955.71 497.76,950.08 496.38,945.07C495.01,940.06 493.76,935.05 492.63,930.05C491.5,925.04 490.31,921.46 489.62,915.02C488.94,908.58 488.37,897.85 488.5,891.41C488.62,884.97 489.44,880.39 490.38,876.38C491.31,872.38 492.5,870.25 494.13,867.37C495.76,864.49 497.51,861.74 500.14,859.11C502.77,856.48 506.15,853.72 509.91,851.6C513.66,849.47 518.04,847.65 522.68,846.34C527.31,845.02 529.81,844.33 537.7,843.71C545.59,843.08 564.19,842.71 570,842.58C575.81,842.46 568.98,842.58 572.54,842.96Z" fill="#9393fb"/>
<path d="M572.54,850.85C575.46,851.16 583.18,851.6 587.56,852.35C591.94,853.1 595.32,853.97 598.83,855.35C602.33,856.73 605.96,858.73 608.59,860.61C611.22,862.49 613.04,864.24 614.6,866.62C616.17,869 617.23,871.63 617.98,874.88C618.73,878.14 618.98,882.52 619.11,886.15C619.23,889.78 618.98,892.48 618.73,896.67C618.48,900.85 618.17,906.96 617.61,911.27C617.04,915.58 616.23,918.78 615.35,922.54C614.48,926.29 613.47,930.05 612.35,933.8C611.22,937.56 609.97,941.56 608.59,945.07C607.21,948.58 605.59,951.71 604.08,954.84C602.58,957.97 600.95,961.1 599.58,963.85C598.2,966.6 597.32,969.11 595.82,971.36C594.32,973.62 592.69,975.62 590.56,977.37C588.44,979.12 586.06,980.63 583.05,981.88C580.05,983.13 577.59,984.26 572.54,984.88C567.48,985.51 557.9,985.76 552.72,985.63C547.54,985.51 544.59,984.88 541.46,984.13C538.33,983.38 536.32,982.38 533.94,981.13C531.56,979.87 529.31,978.5 527.18,976.62C525.05,974.74 522.93,972.24 521.17,969.86C519.42,967.48 518.29,965.23 516.67,962.35C515.04,959.47 512.91,956.09 511.41,952.58C509.91,949.08 509.03,945.07 507.65,941.31C506.28,937.56 504.4,934.43 503.15,930.05C501.89,925.67 500.83,921.46 500.14,915.02C499.45,908.58 498.76,897.85 499.01,891.41C499.26,884.97 500.33,880.52 501.64,876.38C502.96,872.25 504.65,869.5 506.9,866.62C509.15,863.74 511.91,861.24 515.16,859.11C518.42,856.98 522.05,855.16 526.43,853.85C530.81,852.54 534.19,851.78 541.46,851.22C548.72,850.66 564.82,850.53 570,850.47C575.18,850.41 569.61,850.53 572.54,850.85Z" fill="#7474fa"/>
<path d="M568.78,862.71C571.08,862.96 579.92,863.34 583.8,863.99C587.68,864.64 589.69,865.31 592.07,866.62C594.44,867.93 596.32,870 598.08,871.88C599.83,873.76 601.33,875.76 602.58,877.89C603.83,880.02 604.9,882.39 605.59,884.65C606.28,886.9 606.53,889.03 606.71,891.41C606.9,893.79 606.96,895.61 606.71,898.92C606.46,902.23 605.9,907.58 605.21,911.27C604.52,914.95 603.77,918.03 602.58,921.03C601.39,924.04 599.7,926.92 598.08,929.3C596.45,931.67 594.82,933.55 592.82,935.31C590.81,937.06 587.93,938.44 586.06,939.81C584.18,941.19 583.8,942.57 581.55,943.57C579.3,944.57 576.71,945.32 572.54,945.82C568.36,946.32 561.03,946.64 556.48,946.57C551.92,946.51 548.59,946.2 545.21,945.45C541.83,944.69 539.2,943.51 536.2,942.07C533.19,940.63 529.69,938.81 527.18,936.81C524.68,934.8 522.93,932.68 521.17,930.05C519.42,927.42 517.92,924.41 516.67,921.03C515.41,917.65 514.48,914.08 513.66,909.77C512.85,905.45 511.66,899.73 511.78,895.16C511.91,890.6 513.22,885.9 514.41,882.39C515.6,878.89 517.04,876.51 518.92,874.13C520.8,871.75 523.18,869.75 525.68,868.12C528.18,866.49 530.69,865.24 533.94,864.37C537.2,863.49 539.2,863.18 545.21,862.86C551.22,862.55 566.07,862.51 570,862.49C573.93,862.46 566.48,862.46 568.78,862.71Z" fill="#5555ff"/>
<path d="M441.1,1026.9H635.8V832.6H441.1Z" fill="none" stroke="#5e5e62" stroke-width="3.2" stroke-dasharray="9.1 9.68"/>
<path d="M580.05,805.02C585.48,805.21 595.7,805.65 602.58,806.15C609.47,806.65 615.1,807.09 621.36,808.03C627.62,808.97 634.51,810.53 640.14,811.78C645.77,813.04 651.66,814.29 655.16,815.54C658.67,816.79 659.17,817.67 661.17,819.3C663.18,820.92 665.05,823.18 667.18,825.31C669.31,827.43 672.07,829.56 673.94,832.07C675.82,834.57 677.07,837.32 678.45,840.33C679.83,843.33 681.21,846.59 682.21,850.09C683.21,853.6 684.08,857.61 684.46,861.36C684.84,865.12 684.59,868.25 684.46,872.63C684.33,877.01 684.33,881.21 683.71,887.65C683.08,894.09 681.27,905.45 680.7,911.27C680.14,917.08 680.83,918.15 680.33,922.54C679.83,926.92 678.51,932.55 677.7,937.56C676.89,942.57 676.2,947.57 675.45,952.58C674.69,957.59 673.94,962.6 673.19,967.61C672.44,972.61 671.82,977.62 670.94,982.63C670.06,987.64 668.94,993.27 667.93,997.65C666.93,1002.03 665.68,1005.53 664.93,1008.92C664.18,1012.31 664.39,1011.92 663.43,1018.01C662.46,1024.1 661.75,1030.86 659.14,1045.44C656.53,1060.02 651.57,1086.01 647.78,1105.49C643.99,1124.96 639.39,1146.54 636.42,1162.29C633.44,1178.04 632.09,1186.95 629.93,1200C627.76,1213.05 625.6,1227.05 623.44,1240.57C621.27,1254.1 619.11,1270.33 616.94,1281.15C614.78,1291.96 612.62,1296.29 610.45,1305.49C608.29,1314.69 605.85,1329.56 603.96,1336.32C602.07,1343.09 600.44,1342 599.09,1346.06C597.74,1350.12 596.93,1356.07 595.85,1360.67C594.76,1365.27 595.31,1369.73 592.6,1373.65C589.9,1377.57 584.49,1381.71 579.62,1384.2C574.75,1386.69 568.8,1388.04 563.39,1388.58C557.98,1389.12 552.3,1388.45 547.16,1387.45C542.02,1386.44 536.61,1384.61 532.55,1382.58C528.5,1380.55 524.98,1378.92 522.82,1375.27C520.65,1371.62 520.92,1365.81 519.57,1360.67C518.22,1355.53 516.59,1348.77 514.7,1344.44C512.81,1340.11 510.91,1341.19 508.21,1334.7C505.5,1328.21 501.45,1315.23 498.47,1305.49C495.5,1295.75 492.52,1284.93 490.36,1276.28C488.19,1267.62 487.65,1262.21 485.49,1253.56C483.32,1244.9 480.21,1233.27 477.37,1224.34C474.53,1215.42 471.42,1211.69 468.45,1200C465.47,1188.31 462.36,1169.12 459.52,1154.18C456.68,1139.24 454.11,1125.23 451.41,1110.36C448.7,1095.48 446,1078.71 443.29,1064.92C440.59,1051.12 436.78,1035.41 435.18,1027.59C433.57,1019.77 434.23,1021.75 433.66,1018.01C433.1,1014.27 432.47,1009.81 431.78,1005.16C431.1,1000.52 430.22,995.15 429.53,990.14C428.84,985.13 428.22,980.13 427.65,975.12C427.09,970.11 426.84,965.1 426.15,960.09C425.46,955.09 424.15,949.45 423.52,945.07C422.9,940.69 422.77,937.56 422.39,933.8C422.02,930.05 421.39,926.29 421.27,922.54C421.14,918.78 421.21,917.08 421.64,911.27C422.08,905.45 423.15,894.72 423.9,887.65C424.65,880.59 425.21,873.88 426.15,868.87C427.09,863.87 428.22,861.24 429.53,857.61C430.85,853.97 432.28,850.09 434.04,847.09C435.79,844.08 438.54,841.58 440.05,839.58C441.55,837.57 441.05,836.82 443.05,835.07C445.05,833.32 448.81,831.19 452.07,829.06C455.32,826.93 459.58,824.24 462.58,822.3C465.59,820.36 466.96,818.79 470.09,817.42C473.22,816.04 476.98,815.29 481.36,814.04C485.74,812.79 490.75,811.1 496.38,809.91C502.02,808.72 508.28,807.65 515.16,806.9C522.05,806.15 528.56,805.71 537.7,805.4C546.84,805.09 562.94,805.09 570,805.02C577.06,804.96 574.62,804.84 580.05,805.02Z" fill="none" stroke="#000" stroke-width="3.3" stroke-linejoin="round"/>
<path d="M580.05,814.19C585.48,814.38 595.7,814.5 602.58,815.16C609.47,815.83 615.73,816.85 621.36,818.17C627,819.48 632.25,821.49 636.38,823.05C640.52,824.62 643.02,825.56 646.15,827.56C649.28,829.56 652.66,832.32 655.16,835.07C657.67,837.82 659.42,840.95 661.17,844.08C662.93,847.21 664.55,850.34 665.68,853.85C666.81,857.36 667.56,860.74 667.93,865.12C668.31,869.5 668.06,875.13 667.93,880.14C667.81,885.15 667.56,889.98 667.18,895.16C666.81,900.35 666.06,906.71 665.68,911.27C665.31,915.83 665.43,918.15 664.93,922.54C664.43,926.92 663.55,932.55 662.68,937.56C661.8,942.57 660.67,947.57 659.67,952.58C658.67,957.59 657.67,962.6 656.67,967.61C655.67,972.61 654.79,977.62 653.66,982.63C652.54,987.64 651.03,993.27 649.91,997.65C648.78,1002.03 647.72,1005.53 646.9,1008.92C646.09,1012.31 645.96,1014.09 645.02,1018.01C644.09,1021.93 643.26,1023.29 641.29,1032.46C639.31,1041.63 636.15,1058.97 633.17,1073.03C630.2,1087.1 626.68,1100.62 623.44,1116.85C620.19,1133.08 616.67,1156.07 613.7,1170.4C610.72,1184.74 608.83,1193.4 605.58,1202.86C602.34,1212.33 598.28,1221.12 594.22,1227.21C590.17,1233.29 588.54,1236.94 581.24,1239.38C573.94,1241.81 557.98,1242.08 550.4,1241.81C542.83,1241.54 540.4,1239.92 535.8,1237.76C531.2,1235.59 527.14,1234.1 522.82,1228.83C518.49,1223.55 513.35,1213.95 509.83,1206.11C506.32,1198.26 504.69,1190.42 501.72,1181.77C498.74,1173.11 494.96,1165 491.98,1154.18C489,1143.36 487.11,1129.56 483.87,1116.85C480.62,1104.14 476.02,1090.61 472.51,1077.9C468.99,1065.19 465.24,1050.55 462.77,1040.57C460.3,1030.59 458.98,1023.91 457.7,1018.01C456.42,1012.11 455.95,1009.81 455.07,1005.16C454.19,1000.52 453.32,995.15 452.44,990.14C451.56,985.13 450.63,980.13 449.81,975.12C449,970.11 448.31,965.1 447.56,960.09C446.81,955.09 446.06,950.08 445.31,945.07C444.55,940.06 443.68,935.05 443.05,930.05C442.43,925.04 441.8,922.09 441.55,915.02C441.3,907.96 441.3,894.72 441.55,887.65C441.8,880.59 442.3,876.76 443.05,872.63C443.8,868.5 444.55,866.12 446.06,862.86C447.56,859.61 450.06,855.98 452.07,853.1C454.07,850.22 456.07,847.46 458.08,845.59C460.08,843.71 462.08,843.58 464.08,841.83C466.09,840.08 467.21,837.2 470.09,835.07C472.97,832.94 476.35,831.56 481.36,829.06C486.37,826.56 493.26,822.3 500.14,820.05C507.03,817.79 515.16,816.52 522.68,815.54C530.19,814.56 537.32,814.44 545.21,814.19C553.1,813.94 564.19,814.04 570,814.04C575.81,814.04 574.62,814 580.05,814.19Z" fill="none" stroke="#000" stroke-width="3.3" stroke-linejoin="round"/>
<path d="M572.54,820.95C576.71,821.14 588.18,821.26 595.07,821.92C601.96,822.59 608.22,823.49 613.85,824.93C619.48,826.37 624.49,828.5 628.87,830.56C633.26,832.63 637.01,834.82 640.14,837.32C643.27,839.83 645.52,842.58 647.65,845.59C649.78,848.59 651.53,852.1 652.91,855.35C654.29,858.61 655.29,861.61 655.92,865.12C656.54,868.62 656.54,872.63 656.67,876.38C656.79,880.14 656.79,883.9 656.67,887.65C656.54,891.41 656.23,894.98 655.92,898.92C655.6,902.86 655.16,907.33 654.79,911.27C654.41,915.2 654.35,918.15 653.66,922.54C652.97,926.92 651.66,932.55 650.66,937.56C649.66,942.57 648.65,947.57 647.65,952.58C646.65,957.59 645.65,962.6 644.65,967.61C643.65,972.61 642.64,977.62 641.64,982.63C640.64,987.64 639.64,993.27 638.64,997.65C637.64,1002.03 636.45,1005.53 635.63,1008.92C634.82,1012.31 634.17,1015.44 633.76,1018.01C633.35,1020.58 634.35,1018.42 633.17,1024.34C631.99,1030.27 628.85,1044.09 626.68,1053.56C624.52,1063.02 622.89,1071.41 620.19,1081.15C617.48,1090.88 614.51,1101.43 610.45,1111.98C606.39,1122.53 600.71,1136.59 595.85,1144.44C590.98,1152.28 587.46,1156.12 581.24,1159.04C575.02,1161.97 564.47,1161.75 558.52,1161.97C552.57,1162.18 549.86,1161.51 545.54,1160.34C541.21,1159.18 536.88,1157.64 532.55,1154.99C528.23,1152.34 523.36,1149.71 519.57,1144.44C515.78,1139.16 513.08,1130.1 509.83,1123.34C506.59,1116.58 503.88,1113.6 500.09,1103.87C496.31,1094.13 490.9,1077.63 487.11,1064.92C483.32,1052.2 479.33,1035.41 477.37,1027.59C475.41,1019.77 476.19,1021.75 475.35,1018.01C474.51,1014.27 473.35,1009.81 472.35,1005.16C471.35,1000.52 470.28,995.15 469.34,990.14C468.4,985.13 467.53,980.13 466.71,975.12C465.9,970.11 465.27,965.1 464.46,960.09C463.65,955.09 462.77,950.08 461.83,945.07C460.89,940.06 459.7,935.05 458.83,930.05C457.95,925.04 457.07,921.46 456.57,915.02C456.07,908.58 455.57,897.85 455.82,891.41C456.07,884.97 457.2,880.77 458.08,876.38C458.95,872 459.83,868.5 461.08,865.12C462.33,861.74 464.08,858.86 465.59,856.1C467.09,853.35 468.09,850.72 470.09,848.59C472.1,846.46 475.1,845.34 477.61,843.33C480.11,841.33 481.99,838.7 485.12,836.57C488.25,834.44 491.38,832.57 496.38,830.56C501.39,828.56 508.28,826.06 515.16,824.55C522.05,823.05 528.56,822.18 537.7,821.55C546.84,820.92 564.19,820.9 570,820.8C575.81,820.7 568.36,820.76 572.54,820.95Z" fill="none" stroke="#000" stroke-width="3.3" stroke-linejoin="round"/>
<path d="M572.54,827.93C576.71,828.25 588.81,828.62 595.07,829.44C601.33,830.25 605.71,831.38 610.09,832.82C614.48,834.26 618.23,836.45 621.36,838.08C624.49,839.7 626.24,840.7 628.87,842.58C631.5,844.46 634.76,846.84 637.14,849.34C639.51,851.85 641.64,854.73 643.15,857.61C644.65,860.49 645.52,862.86 646.15,866.62C646.78,870.38 646.9,875.38 646.9,880.14C646.9,884.9 646.46,889.98 646.15,895.16C645.84,900.35 645.52,906.71 645.02,911.27C644.52,915.83 643.96,918.15 643.15,922.54C642.33,926.92 641.14,932.55 640.14,937.56C639.14,942.57 638.14,947.57 637.14,952.58C636.13,957.59 635.13,962.6 634.13,967.61C633.13,972.61 632.25,977.62 631.13,982.63C630,987.64 628.5,993.27 627.37,997.65C626.24,1002.03 625.18,1005.53 624.37,1008.92C623.55,1012.31 622.91,1015.44 622.49,1018.01C622.06,1020.58 623.01,1019.5 621.81,1024.34C620.62,1029.19 617.76,1039.22 615.32,1047.06C612.89,1054.91 610.45,1063.83 607.21,1071.41C603.96,1078.98 600.17,1087.23 595.85,1092.51C591.52,1097.78 587.73,1100.89 581.24,1103.05C574.75,1105.22 563.93,1105.62 556.9,1105.49C549.86,1105.35 544.18,1104.14 539.04,1102.24C533.91,1100.35 530.12,1097.64 526.06,1094.13C522,1090.61 518.49,1087.37 514.7,1081.15C510.91,1074.92 506.86,1065.46 503.34,1056.8C499.82,1048.15 495.95,1035.68 493.6,1029.21C491.25,1022.75 490.54,1022.02 489.25,1018.01C487.96,1014 486.93,1009.81 485.87,1005.16C484.8,1000.52 483.87,995.15 482.86,990.14C481.86,985.13 480.86,980.13 479.86,975.12C478.86,970.11 477.86,965.1 476.85,960.09C475.85,955.09 474.85,950.08 473.85,945.07C472.85,940.06 471.78,935.05 470.85,930.05C469.91,925.04 468.78,922.09 468.22,915.02C467.65,907.96 467.28,894.72 467.46,887.65C467.65,880.59 468.53,876.64 469.34,872.63C470.16,868.62 470.97,866.74 472.35,863.62C473.72,860.49 475.48,856.73 477.61,853.85C479.73,850.97 481.99,848.84 485.12,846.34C488.25,843.83 492,841.08 496.38,838.83C500.77,836.57 505.77,834.38 511.41,832.82C517.04,831.25 523.3,830.25 530.19,829.44C537.07,828.62 546.09,828.25 552.72,827.93C559.36,827.62 566.7,827.56 570,827.56C573.3,827.56 568.36,827.62 572.54,827.93Z" fill="none" stroke="#000" stroke-width="3.3" stroke-linejoin="round"/>
<path d="M572.54,835.07C576.09,835.38 585.68,835.7 591.31,836.57C596.95,837.45 601.96,838.83 606.34,840.33C610.72,841.83 614.48,843.83 617.61,845.59C620.74,847.34 622.74,848.72 625.12,850.85C627.5,852.97 630.13,855.73 631.88,858.36C633.63,860.99 634.69,863.62 635.63,866.62C636.57,869.62 637.14,872.88 637.51,876.38C637.89,879.89 637.95,883.9 637.89,887.65C637.82,891.41 637.39,894.98 637.14,898.92C636.89,902.86 636.89,907.33 636.38,911.27C635.88,915.2 635.01,918.15 634.13,922.54C633.26,926.92 632.13,932.55 631.13,937.56C630.13,942.57 629.12,947.57 628.12,952.58C627.12,957.59 626.12,962.6 625.12,967.61C624.12,972.61 623.24,977.62 622.11,982.63C620.99,987.64 619.61,993.27 618.36,997.65C617.1,1002.03 615.73,1005.53 614.6,1008.92C613.47,1012.31 613.1,1014.63 611.6,1018.01C610.09,1021.39 608.48,1024.1 605.58,1029.21C602.69,1034.33 598.01,1043.95 594.22,1048.69C590.44,1053.42 587.46,1055.58 582.86,1057.61C578.26,1059.64 572.04,1060.32 566.63,1060.86C561.22,1061.4 555.54,1061.54 550.4,1060.86C545.27,1060.18 540.67,1059.1 535.8,1056.8C530.93,1054.5 525.79,1051.66 521.19,1047.06C516.59,1042.47 510.97,1034.05 508.21,1029.21C505.45,1024.37 505.8,1021.39 504.65,1018.01C503.49,1014.63 502.39,1012.31 501.27,1008.92C500.14,1005.53 498.95,1001.41 497.89,997.65C496.82,993.9 495.88,990.14 494.88,986.38C493.88,982.63 492.88,979.5 491.88,975.12C490.88,970.74 490,965.1 488.87,960.09C487.75,955.09 486.31,950.08 485.12,945.07C483.93,940.06 482.74,935.05 481.74,930.05C480.74,925.04 479.73,922.09 479.11,915.02C478.48,907.96 477.86,894.47 477.98,887.65C478.11,880.84 478.92,877.89 479.86,874.13C480.8,870.38 481.99,868.12 483.62,865.12C485.24,862.11 487.12,858.86 489.62,856.1C492.13,853.35 495.01,850.97 498.64,848.59C502.27,846.21 506.78,843.71 511.41,841.83C516.04,839.95 520.8,838.39 526.43,837.32C532.07,836.26 537.95,835.88 545.21,835.45C552.47,835.01 565.45,834.76 570,834.69C574.55,834.63 568.98,834.76 572.54,835.07Z" fill="none" stroke="#000" stroke-width="3.3" stroke-linejoin="round"/>
<path d="M572.54,842.96C576.09,843.33 585.68,843.77 591.31,844.84C596.95,845.9 601.96,847.46 606.34,849.34C610.72,851.22 614.73,853.97 617.61,856.1C620.49,858.23 621.99,859.61 623.62,862.11C625.24,864.62 626.56,867.5 627.37,871.13C628.18,874.76 628.37,879.89 628.5,883.9C628.62,887.9 628.31,890.6 628.12,895.16C627.93,899.73 627.87,906.71 627.37,911.27C626.87,915.83 625.99,918.15 625.12,922.54C624.24,926.92 623.11,932.55 622.11,937.56C621.11,942.57 620.11,947.57 619.11,952.58C618.11,957.59 617.23,962.6 616.1,967.61C614.98,972.61 613.72,978.25 612.35,982.63C610.97,987.01 609.47,990.77 607.84,993.9C606.21,997.03 604.46,998.9 602.58,1001.41C600.7,1003.91 598.58,1006.67 596.57,1008.92C594.57,1011.17 593.83,1012.98 590.56,1014.93C587.3,1016.88 581.09,1019.47 577,1020.6C572.91,1021.73 569.67,1021.5 566,1021.7C562.33,1021.9 558.5,1021.95 555,1021.8C551.5,1021.65 548.88,1021.82 545,1020.8C541.12,1019.78 535.04,1017.66 531.69,1015.68C528.35,1013.7 527.18,1011.3 524.93,1008.92C522.68,1006.54 520.17,1003.91 518.17,1001.41C516.17,998.9 514.66,997.03 512.91,993.9C511.16,990.77 509.03,986.38 507.65,982.63C506.28,978.87 505.77,975.12 504.65,971.36C503.52,967.61 502.27,964.48 500.89,960.09C499.51,955.71 497.76,950.08 496.38,945.07C495.01,940.06 493.76,935.05 492.63,930.05C491.5,925.04 490.31,921.46 489.62,915.02C488.94,908.58 488.37,897.85 488.5,891.41C488.62,884.97 489.44,880.39 490.38,876.38C491.31,872.38 492.5,870.25 494.13,867.37C495.76,864.49 497.51,861.74 500.14,859.11C502.77,856.48 506.15,853.72 509.91,851.6C513.66,849.47 518.04,847.65 522.68,846.34C527.31,845.02 529.81,844.33 537.7,843.71C545.59,843.08 564.19,842.71 570,842.58C575.81,842.46 568.98,842.58 572.54,842.96Z" fill="none" stroke="#000" stroke-width="3.3" stroke-linejoin="round"/>
<path d="M572.54,850.85C575.46,851.16 583.18,851.6 587.56,852.35C591.94,853.1 595.32,853.97 598.83,855.35C602.33,856.73 605.96,858.73 608.59,860.61C611.22,862.49 613.04,864.24 614.6,866.62C616.17,869 617.23,871.63 617.98,874.88C618.73,878.14 618.98,882.52 619.11,886.15C619.23,889.78 618.98,892.48 618.73,896.67C618.48,900.85 618.17,906.96 617.61,911.27C617.04,915.58 616.23,918.78 615.35,922.54C614.48,926.29 613.47,930.05 612.35,933.8C611.22,937.56 609.97,941.56 608.59,945.07C607.21,948.58 605.59,951.71 604.08,954.84C602.58,957.97 600.95,961.1 599.58,963.85C598.2,966.6 597.32,969.11 595.82,971.36C594.32,973.62 592.69,975.62 590.56,977.37C588.44,979.12 586.06,980.63 583.05,981.88C580.05,983.13 577.59,984.26 572.54,984.88C567.48,985.51 557.9,985.76 552.72,985.63C547.54,985.51 544.59,984.88 541.46,984.13C538.33,983.38 536.32,982.38 533.94,981.13C531.56,979.87 529.31,978.5 527.18,976.62C525.05,974.74 522.93,972.24 521.17,969.86C519.42,967.48 518.29,965.23 516.67,962.35C515.04,959.47 512.91,956.09 511.41,952.58C509.91,949.08 509.03,945.07 507.65,941.31C506.28,937.56 504.4,934.43 503.15,930.05C501.89,925.67 500.83,921.46 500.14,915.02C499.45,908.58 498.76,897.85 499.01,891.41C499.26,884.97 500.33,880.52 501.64,876.38C502.96,872.25 504.65,869.5 506.9,866.62C509.15,863.74 511.91,861.24 515.16,859.11C518.42,856.98 522.05,855.16 526.43,853.85C530.81,852.54 534.19,851.78 541.46,851.22C548.72,850.66 564.82,850.53 570,850.47C575.18,850.41 569.61,850.53 572.54,850.85Z" fill="none" stroke="#000" stroke-width="3.3" stroke-linejoin="round"/>
<path d="M568.78,862.71C571.08,862.96 579.92,863.34 583.8,863.99C587.68,864.64 589.69,865.31 592.07,866.62C594.44,867.93 596.32,870 598.08,871.88C599.83,873.76 601.33,875.76 602.58,877.89C603.83,880.02 604.9,882.39 605.59,884.65C606.28,886.9 606.53,889.03 606.71,891.41C606.9,893.79 606.96,895.61 606.71,898.92C606.46,902.23 605.9,907.58 605.21,911.27C604.52,914.95 603.77,918.03 602.58,921.03C601.39,924.04 599.7,926.92 598.08,929.3C596.45,931.67 594.82,933.55 592.82,935.31C590.81,937.06 587.93,938.44 586.06,939.81C584.18,941.19 583.8,942.57 581.55,943.57C579.3,944.57 576.71,945.32 572.54,945.82C568.36,946.32 561.03,946.64 556.48,946.57C551.92,946.51 548.59,946.2 545.21,945.45C541.83,944.69 539.2,943.51 536.2,942.07C533.19,940.63 529.69,938.81 527.18,936.81C524.68,934.8 522.93,932.68 521.17,930.05C519.42,927.42 517.92,924.41 516.67,921.03C515.41,917.65 514.48,914.08 513.66,909.77C512.85,905.45 511.66,899.73 511.78,895.16C511.91,890.6 513.22,885.9 514.41,882.39C515.6,878.89 517.04,876.51 518.92,874.13C520.8,871.75 523.18,869.75 525.68,868.12C528.18,866.49 530.69,865.24 533.94,864.37C537.2,863.49 539.2,863.18 545.21,862.86C551.22,862.55 566.07,862.51 570,862.49C573.93,862.46 566.48,862.46 568.78,862.71Z" fill="none" stroke="#000" stroke-width="3.3" stroke-linejoin="round"/>
<text transform="translate(560.3 806.8) scale(0.95 1)" y="6.9" font-size="20.6" text-anchor="middle">0.1</text>
<text transform="translate(535.5 864.2) rotate(-12) scale(0.95 1)" y="6.9" font-size="20.6" text-anchor="middle">0.8</text>
<text transform="translate(618.3 858.9) rotate(52) scale(0.95 1)" y="6.9" font-size="20.6" text-anchor="middle">0.6</text>
<text transform="translate(580 981.3) rotate(-15) scale(0.95 1)" y="6.9" font-size="20.6" text-anchor="middle">0.7</text>
<text transform="translate(486.5 1001.7) rotate(68) scale(0.95 1)" y="6.9" font-size="20.6" text-anchor="middle">0.4</text>
<text transform="translate(580.6 1056.3) rotate(-10) scale(0.95 1)" y="6.9" font-size="20.6" text-anchor="middle">0.5</text>
<text transform="translate(563.6 1160.9) scale(0.95 1)" y="6.9" font-size="20.6" text-anchor="middle">0.3</text>
<text transform="translate(565.2 1240.4) scale(0.95 1)" y="6.9" font-size="20.6" text-anchor="middle">0.2</text>
<g stroke="#000" stroke-width="3.4" fill="none">
<path d="M130,774.4V1484.8"/>
<path d="M128.4,1483.2H1134"/>
<path d="M120.3,782H130"/>
<path d="M120.3,976.9H130"/>
<path d="M120.3,1170H130"/>
<path d="M120.3,1366.7H130"/>
<path d="M159.9,1483V1492.8"/>
<path d="M256.5,1483V1492.8"/>
<path d="M353.6,1483V1492.8"/>
<path d="M451.3,1483V1492.8"/>
<path d="M538.3,1483V1492.8"/>
<path d="M635.9,1483V1492.8"/>
<path d="M735.7,1483V1492.8"/>
<path d="M830.7,1483V1492.8"/>
<path d="M928.9,1483V1492.8"/>
<path d="M1027.7,1483V1492.8"/>
</g>
<text transform="translate(115.6 791) scale(0.97 1)" font-size="30.3" text-anchor="end">0</text>
<text transform="translate(115.6 985.9) scale(0.97 1)" font-size="30.3" text-anchor="end">2</text>
<text transform="translate(115.6 1179) scale(0.97 1)" font-size="30.3" text-anchor="end">4</text>
<text transform="translate(115.6 1375.7) scale(0.97 1)" font-size="30.3" text-anchor="end">6</text>
<text transform="translate(166.6 1522.9) scale(0.97 1)" font-size="30.3" text-anchor="end"><tspan font-size="30.3" dy="1.4" letter-spacing="-0.9">−</tspan><tspan dy="-1.4">4</tspan></text>
<text transform="translate(263.2 1522.9) scale(0.97 1)" font-size="30.3" text-anchor="end"><tspan font-size="30.3" dy="1.4" letter-spacing="-0.9">−</tspan><tspan dy="-1.4">3</tspan></text>
<text transform="translate(360.3 1522.9) scale(0.97 1)" font-size="30.3" text-anchor="end"><tspan font-size="30.3" dy="1.4" letter-spacing="-0.9">−</tspan><tspan dy="-1.4">2</tspan></text>
<text transform="translate(458 1522.9) scale(0.97 1)" font-size="30.3" text-anchor="end"><tspan font-size="30.3" dy="1.4" letter-spacing="-0.9">−</tspan><tspan dy="-1.4">1</tspan></text>
<text transform="translate(538 1522.9) scale(0.97 1)" font-size="30.3" text-anchor="middle">0</text>
<text transform="translate(635.6 1522.9) scale(0.97 1)" font-size="30.3" text-anchor="middle">1</text>
<text transform="translate(735.4 1522.9) scale(0.97 1)" font-size="30.3" text-anchor="middle">2</text>
<text transform="translate(830.4 1522.9) scale(0.97 1)" font-size="30.3" text-anchor="middle">3</text>
<text transform="translate(928.6 1522.9) scale(0.97 1)" font-size="30.3" text-anchor="middle">4</text>
<text transform="translate(1027.4 1522.9) scale(0.97 1)" font-size="30.3" text-anchor="middle">5</text>
<text transform="translate(612.7 1564.6) scale(0.98 1)" font-size="29.7" text-anchor="middle">Position (m)</text>
<text transform="translate(21.6 1123) rotate(-90) scale(0.98 1)" font-size="29.7" text-anchor="middle">Depth (m)</text>
<path d="M767.1,1295.1H852" stroke="#707070" stroke-width="3.5" stroke-dasharray="9.4 9.33" fill="none"/>
<rect x="767" y="1347.5" width="94" height="19.5" fill="url(#poe)"/>
<path d="M767,1348H861" stroke="#000" stroke-width="1.3"/>
<text transform="translate(874.3 1304) scale(1.01 1)" font-size="25">Tunnel cross-section</text>
<text transform="translate(874.6 1365) scale(0.95 1)" font-size="25">POE</text>
<text transform="translate(1.3 797.3) scale(1.06 1)" font-size="31.2" font-weight="bold" stroke="#000" stroke-width="1.1">c</text>
</g>
<g id="panel-d">
<path d="M1397.6,1351.7H1968.8" stroke="#128a12" stroke-width="2.7" fill="none"/>
<path d="M1397.6,1351.69C1398.93,1351.55 1402.93,1351.07 1405.6,1350.86C1408.27,1350.66 1410.93,1350.55 1413.6,1350.46C1416.27,1350.37 1418.93,1350.35 1421.6,1350.32C1424.27,1350.28 1426.93,1350.29 1429.6,1350.25C1432.27,1350.21 1434.93,1350.18 1437.6,1350.08C1440.27,1349.98 1442.93,1349.87 1445.6,1349.65C1448.27,1349.43 1450.93,1349.16 1453.6,1348.76C1456.27,1348.36 1458.93,1347.88 1461.6,1347.24C1464.27,1346.61 1466.93,1345.86 1469.6,1344.93C1472.27,1343.99 1474.93,1342.92 1477.6,1341.63C1480.27,1340.34 1482.93,1338.89 1485.6,1337.18C1488.27,1335.48 1491.2,1333.32 1493.6,1331.4C1496,1329.49 1498.27,1327.33 1500,1325.7C1501.73,1324.07 1502.67,1323.04 1504,1321.6C1505.33,1320.16 1506.67,1318.65 1508,1317.06C1509.33,1315.46 1510.67,1313.79 1512,1312.03C1513.33,1310.27 1514.67,1308.43 1516,1306.49C1517.33,1304.56 1518.67,1302.53 1520,1300.41C1521.33,1298.29 1522.67,1296.07 1524,1293.75C1525.33,1291.43 1526.67,1289.02 1528,1286.49C1529.33,1283.96 1530.67,1281.33 1532,1278.58C1533.33,1275.83 1534.67,1272.98 1536,1270C1537.33,1267.02 1538.67,1263.93 1540,1260.72C1541.33,1257.5 1542.67,1254.19 1544,1250.69C1545.33,1247.19 1546.67,1243.6 1548,1239.71C1549.33,1235.83 1550.67,1231.79 1552,1227.38C1553.33,1222.96 1554.67,1218.32 1556,1213.25C1557.33,1208.17 1558.67,1202.67 1560,1196.95C1561.33,1191.23 1562.67,1185.05 1564,1178.93C1565.33,1172.81 1566.67,1166.4 1568,1160.23C1569.33,1154.07 1570.67,1147.82 1572,1141.95C1573.33,1136.08 1574.67,1130.46 1576,1125C1577.33,1119.54 1578.67,1114.39 1580,1109.21C1581.33,1104.03 1582.67,1099.05 1584,1093.92C1585.33,1088.8 1586.67,1083.74 1588,1078.46C1589.33,1073.18 1590.67,1067.82 1592,1062.24C1593.33,1056.66 1594.67,1050.95 1596,1044.99C1597.33,1039.03 1598.67,1032.89 1600,1026.48C1601.33,1020.07 1602.67,1013.41 1604,1006.52C1605.33,999.63 1606.67,992.31 1608,985.14C1609.33,977.97 1610.67,970.52 1612,963.51C1613.33,956.5 1614.67,949.46 1616,943.08C1617.33,936.71 1618.92,929.91 1620,925.25C1621.08,920.59 1621.67,918.57 1622.5,915.12C1623.33,911.67 1624.17,908.01 1625,904.55C1625.83,901.1 1626.67,897.43 1627.5,894.39C1628.33,891.35 1629.17,888.65 1630,886.31C1630.83,883.97 1631.67,882.06 1632.5,880.35C1633.33,878.64 1634.17,877.3 1635,876.04C1635.83,874.79 1636.67,873.8 1637.5,872.82C1638.33,871.84 1639.17,871.04 1640,870.14C1640.83,869.25 1641.67,868.45 1642.5,867.46C1643.33,866.47 1644.17,865.45 1645,864.21C1645.83,862.97 1646.67,861.54 1647.5,860C1648.33,858.46 1649.17,856.74 1650,854.96C1650.83,853.18 1651.67,851.26 1652.5,849.32C1653.33,847.39 1654.17,845.35 1655,843.34C1655.83,841.33 1656.67,839.26 1657.5,837.26C1658.33,835.26 1659.17,833.23 1660,831.32C1660.83,829.42 1661.67,827.52 1662.5,825.81C1663.33,824.1 1664.17,822.46 1665,821.08C1665.83,819.69 1666.67,818.44 1667.5,817.51C1668.33,816.58 1669.17,815.85 1670,815.49C1670.83,815.14 1671.67,815.1 1672.5,815.37C1673.33,815.65 1674.17,816.28 1675,817.15C1675.83,818.01 1676.67,819.19 1677.5,820.56C1678.33,821.93 1679.17,823.58 1680,825.36C1680.83,827.14 1681.67,829.16 1682.5,831.24C1683.33,833.32 1684.17,835.58 1685,837.85C1685.83,840.11 1686.67,842.46 1687.5,844.83C1688.33,847.19 1689.17,849.6 1690,852.03C1690.83,854.47 1691.67,856.94 1692.5,859.43C1693.33,861.93 1694.17,864.45 1695,867C1695.83,869.54 1696.67,872.12 1697.5,874.7C1698.33,877.29 1699.17,879.89 1700,882.51C1700.83,885.13 1701.67,887.76 1702.5,890.43C1703.33,893.09 1704.17,895.77 1705,898.51C1705.83,901.24 1706.67,904.01 1707.5,906.84C1708.33,909.67 1709.25,912.84 1710,915.49C1710.75,918.13 1711,918.94 1712,922.69C1713,926.45 1714.67,932.67 1716,938.04C1717.33,943.4 1718.67,949.01 1720,954.88C1721.33,960.75 1722.67,966.95 1724,973.27C1725.33,979.59 1726.67,986.17 1728,992.79C1729.33,999.42 1730.67,1006.24 1732,1013.03C1733.33,1019.81 1734.67,1026.71 1736,1033.53C1737.33,1040.34 1738.67,1047.16 1740,1053.94C1741.33,1060.72 1742.67,1067.47 1744,1074.19C1745.33,1080.91 1746.67,1087.63 1748,1094.27C1749.33,1100.9 1750.67,1107.66 1752,1113.99C1753.33,1120.33 1754.67,1126.64 1756,1132.26C1757.33,1137.88 1758.67,1142.87 1760,1147.71C1761.33,1152.55 1762.67,1156.54 1764,1161.3C1765.33,1166.06 1766.67,1170.83 1768,1176.26C1769.33,1181.7 1770.67,1188.31 1772,1193.92C1773.33,1199.54 1774.67,1205.13 1776,1209.94C1777.33,1214.75 1778.67,1218.82 1780,1222.78C1781.33,1226.75 1782.67,1230.2 1784,1233.71C1785.33,1237.22 1786.67,1240.56 1788,1243.84C1789.33,1247.13 1790.67,1250.31 1792,1253.41C1793.33,1256.5 1794.67,1259.5 1796,1262.41C1797.33,1265.32 1798.67,1268.14 1800,1270.86C1801.33,1273.59 1802.67,1276.23 1804,1278.78C1805.33,1281.33 1806.67,1283.79 1808,1286.17C1809.33,1288.55 1810.67,1290.83 1812,1293.04C1813.33,1295.24 1814.67,1297.36 1816,1299.4C1817.33,1301.44 1818.67,1303.39 1820,1305.26C1821.33,1307.13 1822.67,1308.92 1824,1310.63C1825.33,1312.34 1826.67,1313.97 1828,1315.53C1829.33,1317.08 1830.67,1318.55 1832,1319.95C1833.33,1321.35 1834.67,1322.67 1836,1323.93C1837.33,1325.18 1838,1325.89 1840,1327.48C1842,1329.07 1845.33,1331.68 1848,1333.45C1850.67,1335.22 1853.33,1336.73 1856,1338.09C1858.67,1339.46 1861.33,1340.6 1864,1341.64C1866.67,1342.67 1869.33,1343.53 1872,1344.32C1874.67,1345.1 1877.33,1345.75 1880,1346.37C1882.67,1346.98 1885.33,1347.51 1888,1348C1890.67,1348.49 1893.33,1348.92 1896,1349.3C1898.67,1349.69 1901.33,1350.02 1904,1350.31C1906.67,1350.61 1909.33,1350.85 1912,1351.07C1914.67,1351.28 1917.33,1351.46 1920,1351.6C1922.67,1351.73 1925.33,1351.85 1928,1351.9C1930.67,1351.95 1933.33,1351.9 1936,1351.9C1938.67,1351.9 1941.33,1351.9 1944,1351.9C1946.67,1351.9 1949.33,1351.9 1952,1351.9C1954.67,1351.9 1957.33,1351.9 1960,1351.9C1962.67,1351.9 1966.53,1351.9 1968,1351.9C1969.47,1351.9 1968.67,1351.9 1968.8,1351.9" stroke="#0000ff" stroke-width="3.1" fill="none" stroke-linejoin="round"/>
<g stroke="#000" stroke-width="1.95" fill="none">
<path d="M1397.1,787.8V1380"/>
<path d="M1396.2,1379.1H1969.6"/>
<path d="M1384.2,803H1397"/>
<path d="M1384.2,894.55H1397"/>
<path d="M1384.2,986.1H1397"/>
<path d="M1384.2,1077.65H1397"/>
<path d="M1384.2,1169.2H1397"/>
<path d="M1384.2,1260.75H1397"/>
<path d="M1384.2,1352.3H1397"/>
<path d="M1469,1379V1391.6"/>
<path d="M1568.2,1379V1391.6"/>
<path d="M1667.4,1379V1391.6"/>
<path d="M1766.6,1379V1391.6"/>
<path d="M1865.8,1379V1391.6"/>
<path d="M1965,1379V1391.6"/>
</g>
<text transform="translate(1374.6 813.6) scale(0.99 1)" font-size="29.6" text-anchor="end">3.0</text>
<text transform="translate(1374.6 905.15) scale(0.99 1)" font-size="29.6" text-anchor="end">2.5</text>
<text transform="translate(1374.6 996.7) scale(0.99 1)" font-size="29.6" text-anchor="end">2.0</text>
<text transform="translate(1374.6 1088.25) scale(0.99 1)" font-size="29.6" text-anchor="end">1.5</text>
<text transform="translate(1374.6 1179.8) scale(0.99 1)" font-size="29.6" text-anchor="end">1.0</text>
<text transform="translate(1374.6 1271.35) scale(0.99 1)" font-size="29.6" text-anchor="end">0.5</text>
<text transform="translate(1374.6 1362.9) scale(0.99 1)" font-size="29.6" text-anchor="end">0</text>
<text transform="translate(1463.1 1422.6) scale(0.99 1)" font-size="29.6" text-anchor="middle"><tspan font-size="27.7" dy="1.5" letter-spacing="-0.6">−</tspan><tspan dy="-1.5">2.2</tspan></text>
<text transform="translate(1562.3 1422.6) scale(0.99 1)" font-size="29.6" text-anchor="middle"><tspan font-size="27.7" dy="1.5" letter-spacing="-0.6">−</tspan><tspan dy="-1.5">2.0</tspan></text>
<text transform="translate(1660.2 1422.6) scale(0.99 1)" font-size="29.6" text-anchor="middle"><tspan font-size="27.7" dy="1.5" letter-spacing="-0.6">−</tspan><tspan dy="-1.5">1.8</tspan></text>
<text transform="translate(1759.4 1422.6) scale(0.99 1)" font-size="29.6" text-anchor="middle"><tspan font-size="27.7" dy="1.5" letter-spacing="-0.6">−</tspan><tspan dy="-1.5">1.6</tspan></text>
<text transform="translate(1858.6 1422.6) scale(0.99 1)" font-size="29.6" text-anchor="middle"><tspan font-size="27.7" dy="1.5" letter-spacing="-0.6">−</tspan><tspan dy="-1.5">1.4</tspan></text>
<text transform="translate(1957.8 1422.6) scale(0.99 1)" font-size="29.6" text-anchor="middle"><tspan font-size="27.7" dy="1.5" letter-spacing="-0.6">−</tspan><tspan dy="-1.5">1.2</tspan></text>
<text transform="translate(1669.8 1466.3) scale(0.98 1)" font-size="29.7" text-anchor="middle">Anomaly density (g cm<tspan font-size="19.5" dy="-10.5">–3</tspan><tspan dy="10.5">)</tspan></text>
<text transform="translate(1292 1093) rotate(-90) scale(0.98 1)" font-size="29.7" text-anchor="middle">Probability density</text>
<text transform="translate(1573.3 1183.4) scale(0.98 1)" font-size="29.7">Median = <tspan font-size="27.7" dy="1.5" letter-spacing="-0.6">−</tspan><tspan dy="-1.5">1.8</tspan></text>
<text transform="translate(1673 1303.5) scale(0.98 1)" font-size="29.7" text-anchor="middle">68% HDI</text>
<text transform="translate(1592.3 1327.6) scale(0.98 1)" font-size="29.7" text-anchor="end"><tspan font-size="27.7" dy="1.5" letter-spacing="-0.6">−</tspan><tspan dy="-1.5">1.93</tspan></text>
<text transform="translate(1741.6 1327.6) scale(0.98 1)" font-size="29.7"><tspan font-size="27.7" dy="1.5" letter-spacing="-0.6">−</tspan><tspan dy="-1.5">1.66</tspan></text>
<text transform="translate(1867.3 822.7) scale(0.98 1)" font-size="29.7">Prior</text>
<text transform="translate(1867.3 851.6) scale(0.98 1)" font-size="29.7">Posterior</text>
<rect x="1600.5" y="1314.3" width="134.6" height="8.8" fill="#000"/>
<path d="M1808,814.9H1850" stroke="#128a12" stroke-width="2.8"/>
<path d="M1808,844.5H1850" stroke="#0000ff" stroke-width="3.1"/>
<text transform="translate(1272.8 797.7) scale(1.06 1)" font-size="31.2" font-weight="bold" stroke="#000" stroke-width="1.1">d</text>
</g>
</svg>
</body></html>
